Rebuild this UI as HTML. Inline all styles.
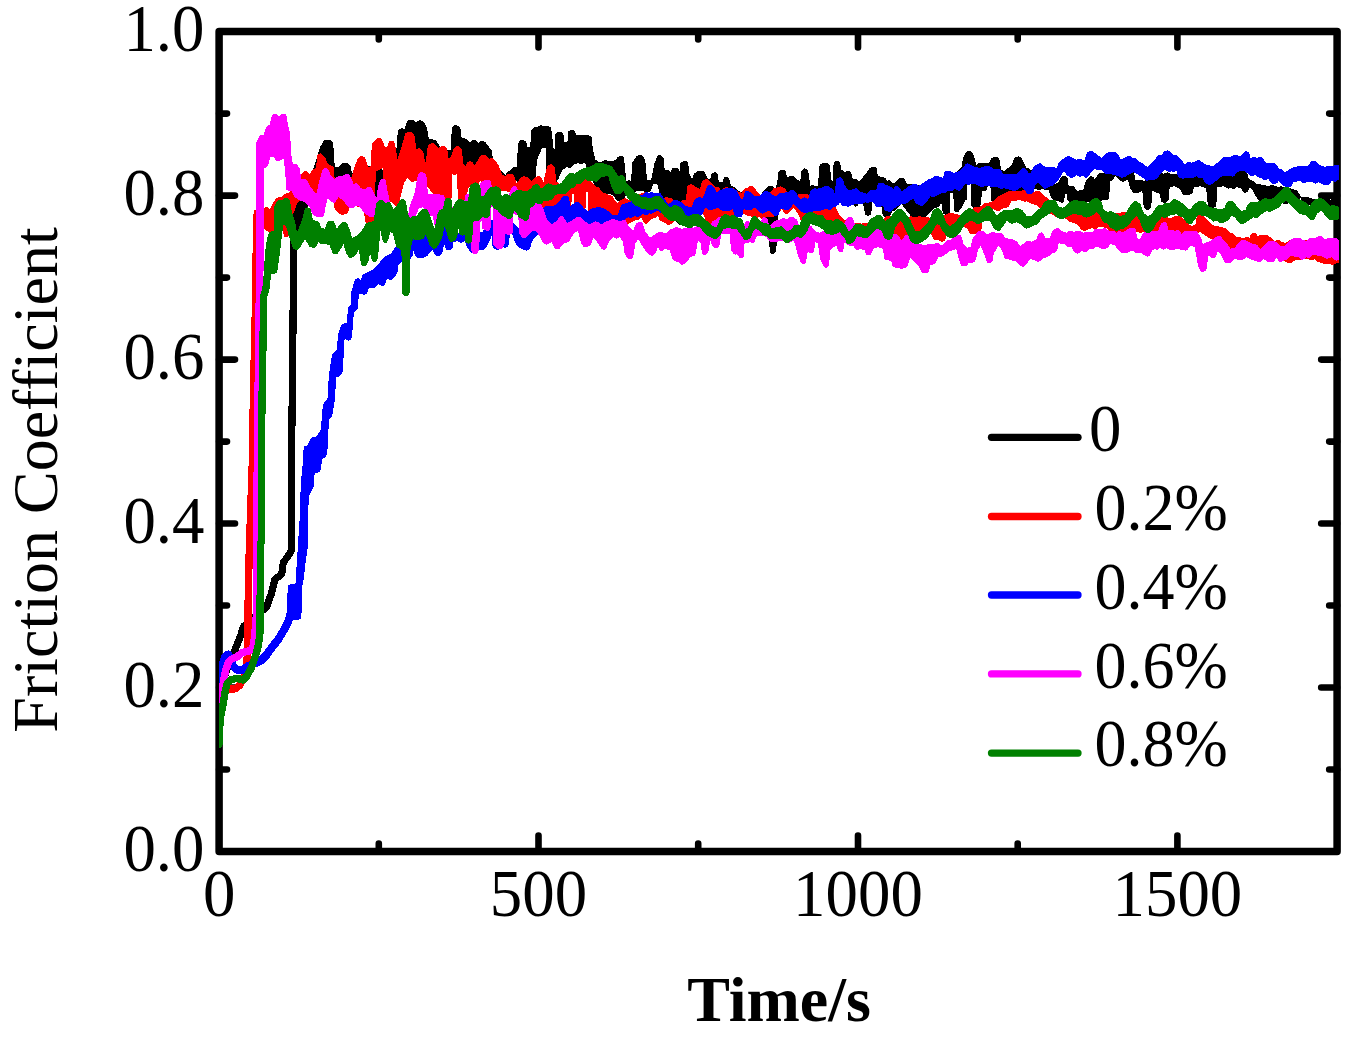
<!DOCTYPE html>
<html lang="en"><head><meta charset="utf-8"><title>Friction Coefficient vs Time</title>
<style>html,body{margin:0;padding:0;background:#fff}body{width:1352px;height:1038px;overflow:hidden}svg{display:block}text{font-family:"Liberation Serif",serif;fill:#000}</style></head><body>
<svg width="1352" height="1038" viewBox="0 0 1352 1038">
<rect width="1352" height="1038" fill="#fff"/>
<g stroke="#000" stroke-width="7.5" fill="none" stroke-linecap="round">
<rect x="219.1" y="31.6" width="1118.0" height="819.9" stroke-linejoin="round"/>
</g><g stroke="#000" stroke-width="6.6" fill="none" stroke-linecap="round">
<path d="M219.1 769.5h7.9M1337.1 769.5h-7.9"/>
<path d="M219.1 687.5h15.9M1337.1 687.5h-15.9"/>
<path d="M219.1 605.5h7.9M1337.1 605.5h-7.9"/>
<path d="M219.1 523.5h15.9M1337.1 523.5h-15.9"/>
<path d="M219.1 441.6h7.9M1337.1 441.6h-7.9"/>
<path d="M219.1 359.6h15.9M1337.1 359.6h-15.9"/>
<path d="M219.1 277.6h7.9M1337.1 277.6h-7.9"/>
<path d="M219.1 195.6h15.9M1337.1 195.6h-15.9"/>
<path d="M219.1 113.6h7.9M1337.1 113.6h-7.9"/>
<path d="M378.8 851.5v-7.9M378.8 31.6v7.9"/>
<path d="M538.5 851.5v-15.9M538.5 31.6v15.9"/>
<path d="M698.2 851.5v-7.9M698.2 31.6v7.9"/>
<path d="M858.0 851.5v-15.9M858.0 31.6v15.9"/>
<path d="M1017.7 851.5v-7.9M1017.7 31.6v7.9"/>
<path d="M1177.4 851.5v-15.9M1177.4 31.6v15.9"/>
</g>
<path d="M394.7 165.9 395.3 166.9 397.4 168.9 398.4 169.4 399.6 169.5 403.7 168.8 406.6 167.2 408.7 167.5 411.8 166.9 413.4 168.2 414.5 168.7 415.8 168.6 417.3 168.2 420.0 168.8 421.0 168.4 422.8 167.4 425.2 167.1 427.3 168.7 429.4 169.5 430.7 169.4 431.8 168.8 432.9 167.8 434.4 192.3 434.8 193.5 435.7 194.3 437.0 195.1 438.3 195.5 439.7 195.1 441.9 193.8 444.6 192.5 445.4 192.0 448.3 188.7 451.0 184.0 451.4 182.9 452.1 172.5 453.8 173.3 455.0 173.6 456.2 173.3 457.9 172.5 458.5 181.3 458.9 182.6 459.9 183.5 461.8 183.7 463.9 184.5 465.3 184.6 467.3 184.2 470.2 183.0 472.8 183.0 476.0 183.9 477.7 183.6 478.6 182.7 479.0 181.5 479.3 178.8 484.6 178.8 485.2 182.4 485.6 183.5 486.5 184.3 488.8 185.1 490.0 184.8 491.7 183.9 492.7 184.5 494.4 184.7 495.8 183.9 497.2 182.5 499.1 182.9 500.5 182.9 505.0 181.2 506.7 179.6 507.3 178.4 507.1 176.9 508.5 177.3 513.1 175.6 516.3 180.9 517.2 181.8 518.4 182.2 519.6 181.9 520.6 181.1 523.5 177.3 528.1 178.8 530.3 181.0 531.7 181.7 533.2 181.6 534.5 181.0 535.6 180.1 536.0 178.7 536.7 160.9 542.0 148.0 545.8 148.0 546.2 178.5 546.7 180.0 548.0 180.9 553.1 183.0 554.3 183.2 555.5 182.9 556.4 182.0 558.7 178.4 562.1 170.3 566.7 167.2 568.6 167.8 570.0 167.8 571.3 167.1 573.6 164.6 578.3 163.0 580.3 164.0 581.7 164.3 583.0 163.8 584.8 162.5 590.0 176.4 594.9 185.6 599.5 190.2 604.2 193.4 605.6 193.8 609.9 193.8 613.0 195.4 616.7 200.4 617.8 201.2 619.0 201.4 620.3 201.0 623.3 199.0 624.0 198.3 626.9 193.9 627.8 194.3 629.4 194.4 630.7 193.5 632.2 191.7 633.4 192.2 634.8 192.4 636.1 191.8 637.7 190.5 642.3 190.5 645.0 192.7 646.1 193.2 647.2 193.2 648.3 192.6 649.9 191.3 650.7 190.4 653.7 183.8 657.1 183.8 659.4 193.0 659.9 194.0 662.1 196.8 662.9 197.5 665.7 198.9 670.8 200.2 672.8 202.9 673.8 203.7 676.2 203.9 676.2 220.7 676.4 221.8 677.1 222.7 679.6 224.7 681.2 225.4 682.6 225.1 683.6 224.2 684.0 222.9 684.6 204.2 686.4 205.1 689.0 205.5 690.9 204.9 693.0 203.2 695.6 202.9 697.4 203.9 698.5 204.2 699.6 204.0 701.9 202.9 704.5 200.9 707.2 200.4 712.4 200.4 714.2 202.4 715.1 203.0 716.2 203.2 717.2 203.2 718.7 202.6 720.4 201.2 722.4 203.2 723.5 203.8 724.9 204.2 726.5 204.2 730.9 202.8 732.6 203.3 734.6 203.2 736.3 202.4 738.6 202.3 740.1 204.4 741.4 205.3 743.1 205.3 746.2 204.1 747.0 211.2 747.3 212.3 748.5 214.3 749.5 215.3 750.7 215.6 752.0 215.3 753.0 214.4 753.3 213.1 753.7 205.5 756.3 211.3 759.5 216.8 761.6 219.4 762.7 220.3 764.2 220.3 765.6 220.0 767.8 220.4 768.7 241.6 770.1 251.6 770.5 252.7 771.5 253.5 772.7 253.8 774.4 253.5 775.3 252.7 775.8 251.6 777.1 241.9 778.0 204.3 779.2 205.1 781.1 205.6 782.4 205.4 783.7 204.7 785.8 202.8 790.9 202.6 793.7 202.1 796.5 202.8 799.3 201.6 801.2 201.8 802.6 201.6 804.5 200.7 805.5 201.6 806.6 202.2 807.9 202.2 809.0 201.6 810.2 200.5 818.6 201.6 820.5 202.4 821.7 202.5 822.8 202.2 824.6 201.1 826.3 202.1 827.5 202.5 833.3 200.5 835.4 201.5 837.9 201.8 839.4 201.5 841.2 200.5 843.8 201.9 849.0 201.0 851.3 202.1 853.6 205.4 854.5 206.3 855.7 206.6 856.9 206.3 857.9 205.5 858.3 204.3 858.7 200.9 862.9 203.6 865.0 213.4 865.5 214.5 866.4 215.2 867.5 215.5 868.8 215.5 870.1 215.2 871.0 214.3 871.4 213.0 872.1 200.7 874.7 201.8 877.7 204.2 878.6 204.7 881.2 205.4 882.6 214.8 883.2 216.1 884.5 216.9 886.0 216.9 889.2 215.8 890.2 215.2 890.8 214.3 892.0 211.3 894.6 210.6 895.7 210.0 901.6 204.1 906.7 211.0 909.5 213.6 909.7 217.0 910.3 218.4 912.2 219.6 914.0 219.6 915.2 219.1 916.8 217.4 918.8 219.0 920.0 219.6 921.2 219.5 923.0 219.0 924.1 218.3 933.6 208.8 937.8 207.4 939.1 206.3 941.4 203.0 942.7 212.2 943.2 213.4 944.3 214.2 946.2 215.0 947.4 215.2 948.6 214.8 949.4 213.8 949.7 212.6 950.0 193.0 953.3 193.0 953.8 208.8 954.5 210.7 955.4 211.9 956.8 212.4 958.3 212.0 959.3 210.9 959.9 209.7 962.8 206.0 965.4 200.3 965.9 200.2 966.8 199.2 967.2 198.0 967.5 183.8 970.8 183.8 971.1 205.0 971.4 206.1 972.1 207.0 973.1 207.5 976.6 208.4 977.7 208.4 978.8 207.9 979.5 207.0 981.1 204.0 981.3 202.9 981.7 191.3 984.6 191.3 985.8 191.1 986.7 190.3 987.2 189.2 987.9 185.5 990.4 185.5 991.1 199.7 991.5 201.0 992.4 201.9 993.6 202.2 997.1 202.2 998.4 201.8 999.3 200.8 1002.0 195.4 1006.6 193.9 1008.4 194.7 1009.5 194.9 1010.6 194.6 1012.5 193.7 1015.2 193.4 1020.1 193.6 1021.7 193.1 1023.8 191.5 1027.0 191.4 1029.4 190.7 1031.9 190.3 1035.0 188.9 1037.8 190.0 1039.7 190.0 1042.5 188.9 1045.3 190.1 1048.8 190.5 1050.9 197.6 1052.2 199.2 1054.3 200.3 1055.6 200.6 1058.2 200.5 1060.1 202.2 1061.4 202.9 1062.9 202.7 1064.0 201.8 1064.4 200.4 1064.7 193.8 1066.7 193.8 1066.8 198.3 1067.1 199.3 1067.7 200.1 1069.9 202.0 1071.1 202.6 1072.4 202.5 1074.3 201.9 1076.6 200.6 1078.7 202.7 1079.8 203.3 1082.3 203.8 1083.3 203.4 1085.2 202.1 1087.8 201.6 1089.7 202.0 1091.5 201.7 1093.3 200.6 1095.1 202.2 1096.0 202.7 1098.4 202.6 1099.6 202.1 1101.9 200.5 1107.5 200.0 1108.5 199.2 1109.0 197.9 1110.5 180.6 1111.5 180.7 1112.6 180.2 1113.4 179.3 1115.2 175.8 1119.4 180.1 1122.0 181.6 1123.3 181.8 1124.6 181.4 1128.0 179.2 1129.7 187.2 1132.3 191.7 1133.2 192.6 1134.6 193.0 1137.6 193.0 1139.2 192.5 1141.5 190.8 1142.8 193.5 1143.6 206.0 1144.2 207.5 1145.5 209.1 1146.7 210.0 1148.3 210.0 1149.5 209.1 1150.8 207.5 1151.4 206.0 1152.1 190.8 1156.2 192.8 1159.6 193.7 1161.0 200.8 1161.5 201.8 1163.4 203.1 1165.0 203.3 1166.4 202.6 1168.1 200.9 1168.9 199.2 1169.6 187.8 1172.2 186.7 1174.9 186.3 1179.6 188.7 1182.4 193.5 1183.2 194.4 1184.2 194.8 1187.5 195.4 1189.3 195.0 1191.9 193.4 1192.7 192.7 1193.1 191.6 1193.8 187.2 1197.2 187.2 1200.0 186.3 1203.2 186.9 1206.2 188.6 1207.7 204.1 1208.1 205.2 1208.8 206.0 1210.6 207.3 1211.6 207.8 1214.3 207.5 1215.4 207.0 1216.1 206.1 1216.4 205.0 1217.1 187.1 1220.1 186.7 1223.2 186.3 1227.2 188.3 1228.3 188.6 1229.4 188.4 1231.1 187.7 1232.5 188.5 1233.9 188.8 1235.3 188.3 1236.8 187.2 1241.3 188.7 1242.2 191.1 1242.9 192.0 1244.0 192.6 1245.1 192.6 1246.4 192.4 1247.6 191.8 1248.4 190.7 1249.4 187.5 1252.9 190.3 1256.1 196.7 1258.8 200.2 1259.9 201.0 1261.3 201.1 1264.8 200.5 1267.0 202.4 1269.0 203.3 1270.3 203.4 1271.4 202.9 1272.8 201.7 1274.6 203.4 1276.1 204.1 1277.4 204.2 1278.9 203.9 1280.8 203.0 1283.7 203.8 1287.2 203.8 1288.4 203.5 1289.4 202.7 1291.8 199.1 1293.7 200.5 1295.0 201.1 1297.3 201.1 1298.3 200.6 1300.0 199.0 1300.7 198.0 1300.9 196.8 1300.4 195.6 1297.5 191.2 1296.1 190.1 1292.0 188.7 1288.5 188.0 1285.1 187.7 1282.5 186.5 1280.9 186.3 1278.3 186.8 1275.2 186.2 1272.8 185.1 1271.7 184.8 1270.5 185.1 1268.3 186.1 1262.1 184.6 1259.7 184.3 1256.9 184.5 1253.3 181.1 1248.8 178.8 1247.4 173.9 1246.3 172.5 1244.8 171.5 1243.5 171.0 1241.7 170.9 1238.8 171.4 1237.4 171.2 1236.1 171.4 1235.1 172.1 1233.5 174.0 1231.0 172.3 1230.0 172.2 1225.7 172.9 1220.4 171.8 1217.7 173.1 1215.2 173.9 1212.2 173.9 1207.4 175.2 1202.8 173.2 1201.5 173.0 1199.1 173.2 1196.7 173.9 1189.1 173.8 1187.3 171.7 1186.4 171.0 1185.2 170.8 1184.2 170.9 1182.9 171.3 1180.8 172.6 1179.1 172.8 1177.4 173.5 1176.5 174.5 1173.5 174.0 1171.5 174.4 1169.6 173.0 1167.9 172.4 1166.6 172.5 1165.2 173.0 1163.4 174.3 1161.8 172.8 1159.9 171.4 1158.7 170.9 1157.4 171.1 1155.5 171.8 1152.2 172.3 1149.6 173.4 1147.5 173.4 1146.4 174.1 1145.8 175.3 1144.6 181.0 1140.5 179.6 1135.4 179.5 1134.0 172.4 1133.0 170.8 1131.8 169.9 1130.4 169.4 1129.0 169.8 1127.3 170.7 1121.8 171.6 1120.4 170.5 1119.3 170.0 1118.2 170.1 1117.1 170.6 1115.0 172.7 1114.4 172.1 1111.2 171.4 1109.9 171.4 1108.1 172.8 1105.1 172.8 1102.1 173.2 1100.5 173.0 1099.1 173.2 1098.0 174.2 1094.9 179.1 1093.4 177.2 1092.3 176.4 1090.9 176.3 1089.7 176.8 1086.8 179.2 1086.0 180.4 1083.0 190.3 1080.5 190.1 1079.4 190.2 1076.9 191.1 1074.5 186.9 1073.4 185.8 1071.8 185.6 1068.7 186.1 1067.5 178.3 1067.0 177.2 1066.1 176.4 1064.9 176.2 1063.0 176.2 1061.6 176.6 1060.6 177.6 1058.0 182.9 1055.4 183.6 1053.5 182.2 1052.2 181.7 1050.9 182.0 1049.2 182.8 1046.8 181.0 1043.8 179.5 1041.2 176.2 1039.0 174.4 1037.9 173.9 1036.6 174.0 1035.2 174.4 1032.5 171.2 1029.6 168.9 1028.5 168.4 1026.2 167.9 1023.7 162.1 1021.2 157.7 1020.0 156.6 1018.5 156.4 1016.2 156.8 1014.9 157.4 1014.1 158.5 1012.1 164.7 1004.1 171.1 1001.3 169.7 999.3 159.0 998.6 157.7 997.3 157.0 995.3 157.3 994.0 157.1 992.5 157.5 991.4 158.6 988.9 163.5 987.5 162.9 985.6 162.9 983.9 163.5 982.1 162.7 980.3 162.5 978.9 162.9 977.8 163.4 976.1 164.9 974.7 158.4 972.6 152.9 971.7 151.6 970.2 151.2 968.0 151.2 966.6 151.6 965.6 152.6 962.8 158.7 962.0 166.4 956.8 171.8 954.1 175.1 951.4 179.5 948.8 179.3 947.8 179.9 946.0 181.5 944.5 181.0 943.3 180.9 942.2 181.5 940.3 182.9 938.4 183.2 936.9 183.9 934.9 186.0 933.7 185.4 932.3 185.1 930.9 185.7 929.5 186.8 927.9 186.0 926.8 185.6 925.6 185.8 924.1 186.5 922.6 185.3 921.3 184.8 915.9 186.1 912.6 184.1 910.8 183.8 907.0 184.4 905.1 179.5 904.2 178.3 902.7 177.8 900.2 177.8 899.0 178.1 898.2 178.8 894.8 182.8 892.5 182.8 891.1 181.0 890.0 180.2 888.7 180.0 886.9 180.9 885.8 178.7 884.6 177.6 883.8 177.2 877.9 176.2 876.7 168.7 876.1 167.4 875.0 166.6 873.7 166.5 871.6 166.9 869.9 167.9 866.3 173.0 862.1 178.0 859.1 181.0 856.9 179.4 855.9 178.9 854.8 178.9 852.9 179.4 851.5 173.8 850.7 172.5 849.4 171.4 847.9 170.8 846.3 171.1 845.0 171.9 841.3 169.7 840.0 162.8 839.5 161.6 838.4 160.8 837.0 160.7 834.7 161.3 833.9 162.2 833.6 163.3 832.9 180.8 831.3 179.7 829.8 165.6 829.2 164.2 827.8 163.4 826.5 163.1 823.5 163.1 822.5 163.3 820.9 164.0 819.9 164.9 819.4 166.2 817.9 186.2 815.7 186.2 814.1 185.3 812.8 184.9 811.5 185.3 810.4 185.9 808.2 171.0 807.7 169.9 806.0 168.7 804.6 168.4 803.2 169.0 801.4 170.7 801.1 171.7 800.4 180.9 797.0 179.6 794.5 176.5 793.4 175.7 792.0 175.6 789.5 176.1 787.0 177.5 785.9 171.8 785.3 170.6 784.3 169.9 783.1 169.7 780.6 170.1 779.2 170.8 778.5 172.3 777.0 183.2 775.0 191.3 774.1 187.8 773.4 186.6 772.1 185.9 770.4 185.6 769.1 185.6 768.0 186.3 763.1 191.4 759.9 196.0 758.1 194.9 756.4 194.6 754.5 194.9 753.0 194.6 750.0 193.0 748.9 192.7 746.1 193.6 740.4 191.9 737.4 190.3 734.8 187.5 733.4 186.7 731.2 186.2 729.2 178.9 728.3 177.5 726.7 177.0 725.8 177.0 724.2 177.5 723.3 178.9 722.2 182.7 718.8 181.3 717.5 174.4 717.0 173.2 715.9 172.5 714.5 172.3 713.1 172.6 711.7 173.3 711.0 174.8 710.4 179.3 707.1 178.0 705.1 172.6 704.3 171.5 703.1 171.0 700.1 170.5 698.2 170.9 694.5 173.3 693.5 174.8 692.3 178.8 689.6 174.8 688.2 163.5 687.8 162.3 686.8 161.5 685.6 161.2 683.8 161.3 682.2 161.7 680.8 162.5 680.2 164.0 679.6 171.5 678.5 169.3 677.6 168.2 676.2 167.8 674.0 167.8 672.5 168.3 671.5 169.6 670.7 172.3 669.4 170.5 668.4 169.8 667.3 169.5 664.6 169.5 663.9 159.1 663.1 157.4 661.6 155.9 660.6 155.2 659.4 155.1 658.3 155.5 656.8 157.1 654.5 163.4 651.3 179.5 647.1 179.5 645.5 163.4 644.1 157.6 643.5 156.5 642.5 155.8 641.0 155.2 639.0 155.2 637.1 155.9 635.9 157.0 632.4 162.6 632.0 163.9 631.2 180.9 629.7 180.4 627.8 180.4 626.3 181.0 624.0 158.5 623.6 157.3 622.7 156.5 621.4 156.2 619.6 156.2 618.3 156.6 617.3 157.6 616.3 159.6 611.5 161.2 608.7 161.6 606.8 160.4 605.4 160.0 604.0 160.4 602.1 161.6 599.3 162.0 595.4 159.7 593.0 149.9 591.6 137.7 591.1 136.5 590.1 135.7 588.0 135.4 585.7 134.7 584.3 134.7 581.6 135.3 578.8 135.3 576.2 134.6 574.6 131.4 573.8 130.5 572.7 130.0 571.4 130.1 569.6 130.7 568.3 131.6 567.8 133.1 567.5 141.3 564.6 142.6 563.9 135.7 563.2 134.1 561.3 132.3 560.0 131.6 558.5 131.7 556.9 132.4 555.8 133.3 555.3 134.7 554.9 149.1 553.0 148.0 552.2 133.5 550.9 128.1 550.0 126.7 548.4 126.1 543.5 126.2 542.3 125.4 541.2 125.0 540.0 125.2 539.0 125.9 537.6 127.4 534.9 127.2 534.0 127.6 532.2 129.0 531.4 129.9 531.1 131.0 530.3 146.3 527.1 147.6 526.5 142.8 526.0 141.6 524.9 140.7 523.1 140.1 521.6 139.9 520.3 140.6 518.6 142.4 517.8 144.1 517.0 167.5 515.2 166.7 514.0 166.9 513.1 167.6 511.3 169.6 508.2 171.5 506.7 172.8 506.0 173.8 506.0 175.3 502.3 171.4 501.4 170.7 498.7 169.6 496.1 163.8 495.1 162.6 493.0 161.4 492.2 152.2 491.8 150.9 488.6 146.3 485.1 142.0 483.5 141.0 481.2 140.9 478.3 142.7 475.6 140.5 474.2 140.0 472.7 140.3 470.0 141.9 466.4 139.0 461.3 137.1 460.6 129.2 460.3 128.2 459.6 127.4 457.4 125.6 456.4 125.1 455.3 125.1 454.2 125.6 452.2 127.4 451.9 128.4 451.2 138.4 450.8 149.5 444.9 150.0 442.0 149.5 436.0 140.7 435.1 139.8 428.8 138.7 427.2 128.6 424.8 123.5 424.1 122.7 421.6 120.7 420.6 120.2 419.4 120.2 418.4 120.7 415.9 122.7 413.6 120.4 412.6 119.8 411.4 119.7 408.7 120.1 407.4 120.8 406.7 122.0 404.7 129.3 403.0 128.5 401.7 128.3 400.4 128.7 398.8 129.9 398.1 130.7 397.8 131.8 395.3 163.2 394.9 163.6 394.5 164.7ZM1300.5 199.3 1301.0 200.7 1302.2 201.5 1304.1 202.2 1305.8 204.4 1306.7 205.2 1307.8 205.5 1310.0 204.7 1312.5 205.5 1317.6 206.6 1319.5 208.0 1321.4 208.4 1322.7 208.3 1323.9 207.7 1325.9 206.1 1328.1 207.0 1330.7 207.5 1338.1 206.6 1338.7 206.1 1338.7 199.4 1338.2 199.0 1335.0 197.6 1333.5 197.5 1332.2 198.2 1330.6 199.9 1328.8 199.1 1327.0 199.0 1325.1 199.5 1322.6 199.3 1319.5 199.7 1317.3 198.9 1316.2 198.7 1313.4 199.0 1307.1 196.8 1303.2 196.5 1301.8 196.8 1300.8 197.9ZM297.2 240.3 297.9 235.9 300.5 226.8 303.8 216.8 310.4 200.3 316.0 196.1 318.8 193.6 321.6 190.5 324.3 186.5 326.9 183.8 329.6 183.5 331.3 182.6 334.2 179.1 335.6 180.2 337.1 180.9 338.7 180.5 340.1 179.6 342.4 179.6 343.6 179.4 345.9 178.2 349.2 178.4 350.4 178.3 350.9 178.0 354.0 181.6 356.9 184.1 359.2 187.8 360.0 188.7 361.0 189.1 362.7 189.3 365.3 191.4 367.8 196.5 369.1 197.8 371.1 198.7 373.6 200.2 377.3 201.2 380.0 203.2 382.2 203.8 383.4 203.5 384.4 202.6 384.9 201.4 387.2 178.5 389.5 174.8 390.0 173.5 389.7 172.2 388.7 171.2 387.4 170.8 386.1 171.2 383.6 172.6 381.3 166.9 380.4 165.8 379.1 165.3 377.7 165.6 376.6 166.1 374.7 165.7 373.0 165.9 371.1 166.9 368.6 166.2 366.6 163.1 365.6 162.3 364.2 162.0 362.4 162.8 361.7 163.6 359.3 167.3 356.6 169.0 354.3 170.8 352.0 173.8 350.6 166.6 350.3 165.7 349.6 164.9 346.9 163.1 345.9 162.7 344.8 162.8 342.2 163.5 340.9 164.4 338.2 167.7 334.7 166.3 333.8 150.1 332.5 142.1 331.9 140.8 330.8 140.0 329.4 139.9 328.3 140.1 326.5 139.8 325.0 140.0 323.8 141.0 319.7 147.8 317.9 154.9 309.5 179.8 306.1 185.3 302.9 193.0 299.7 195.5 296.6 197.0 293.5 199.3 292.6 200.3 290.2 206.1 290.0 207.1 289.9 273.0 288.1 446.0 288.1 549.0 285.0 554.0 280.4 560.6 279.7 562.2 278.3 572.3 272.8 576.4 271.5 578.4 268.2 591.7 263.6 604.9 241.0 623.9 239.8 625.7 237.9 632.7 233.6 643.6 224.2 666.2 219.1 681.4 219.1 711.9 220.2 710.6 222.6 705.6 226.0 683.5 230.9 668.9 240.3 646.3 244.7 635.1 246.5 628.8 269.0 609.7 270.1 608.2 275.1 593.9 278.2 581.4 283.9 577.2 284.8 576.1 285.3 574.8 286.7 564.1 290.9 558.1 294.8 551.9 295.3 550.0 295.3 446.0 297.2 270.9Z" fill="#000000" fill-rule="evenodd" shape-rendering="crispEdges"/>
<path d="M252.5 272.9 249.6 399.9 249.2 445.9 245.3 559.9 244.5 599.9 243.9 648.7 243.3 661.0 242.7 666.9 240.3 676.3 237.1 682.7 233.8 685.2 227.5 685.2 225.3 686.0 220.3 689.8 219.1 691.5 219.1 710.9 220.1 710.1 222.6 706.0 225.7 694.9 228.7 692.6 235.0 692.6 237.2 691.8 242.2 688.0 243.3 686.8 247.4 678.5 249.9 668.5 250.7 661.7 251.3 648.9 251.9 600.1 252.7 560.1 256.6 446.1 257.0 400.1 259.9 272.4 260.5 270.9 260.7 230.2 263.3 228.9 268.1 231.3 270.4 232.9 271.6 233.3 273.0 233.1 275.1 232.2 277.6 231.8 279.2 230.8 281.5 227.8 283.9 235.7 284.7 236.9 286.0 237.5 287.4 237.4 288.5 236.5 289.0 235.2 290.5 215.3 292.8 214.2 294.1 212.7 297.1 203.6 300.1 200.6 305.5 202.4 306.7 202.5 307.8 202.1 310.0 200.6 312.1 201.7 313.3 202.0 315.0 202.0 316.3 201.7 321.2 199.3 324.1 197.5 326.7 197.2 329.9 197.5 332.9 198.7 334.4 207.8 335.0 209.1 338.1 212.5 340.3 214.4 341.7 215.1 343.1 214.9 344.7 214.1 346.0 214.0 347.5 213.3 348.3 211.9 349.6 205.3 353.2 203.2 355.2 205.7 356.7 206.6 358.6 206.9 360.7 208.3 362.0 208.7 363.7 208.8 365.2 221.3 365.7 222.6 366.8 223.4 368.2 224.0 370.1 224.0 371.7 223.3 372.7 222.7 373.3 221.6 374.7 216.4 375.8 170.6 377.1 170.8 378.9 170.3 382.9 167.6 384.4 198.0 384.8 199.3 385.7 200.2 387.0 200.5 389.0 200.5 393.0 203.7 394.7 205.5 395.8 205.8 397.0 205.5 397.9 204.7 398.9 203.0 403.8 183.5 407.6 177.5 410.4 180.9 411.7 181.7 413.2 181.7 419.3 179.7 420.6 181.0 421.6 181.6 422.8 181.8 424.8 180.7 427.5 186.7 432.9 193.6 434.2 197.4 434.8 198.5 435.9 199.1 438.0 199.7 441.0 200.2 442.4 200.0 445.1 198.8 448.0 199.0 449.4 199.3 450.6 198.9 451.5 198.0 451.9 196.7 452.2 174.2 453.3 174.8 454.6 175.2 455.9 174.8 457.0 174.2 457.8 198.0 458.1 199.2 459.1 200.2 460.4 200.5 463.3 200.5 464.5 200.2 465.4 199.5 465.9 198.5 468.7 187.1 471.7 186.5 475.2 187.2 476.5 187.2 477.7 186.9 478.6 186.1 479.1 184.9 479.6 180.8 480.8 181.5 482.1 181.8 483.4 181.5 484.6 180.8 485.2 188.0 485.6 189.2 486.6 190.1 487.9 190.4 491.5 190.5 494.6 192.2 497.4 192.8 500.4 191.3 503.1 190.9 505.9 191.3 507.9 191.8 509.7 191.6 511.5 190.6 513.5 193.0 514.7 193.8 516.7 194.5 518.6 195.6 520.5 195.8 522.1 195.5 527.2 198.7 529.1 200.9 530.0 201.7 532.6 201.8 534.3 203.3 535.4 203.8 536.5 203.9 538.0 203.6 540.4 205.0 545.7 209.3 548.1 212.3 549.4 213.2 553.7 214.3 555.1 214.2 557.0 213.5 560.1 211.1 563.1 210.8 568.0 208.9 570.1 207.7 571.0 206.8 571.4 205.6 571.8 193.8 573.7 193.8 574.1 207.7 574.5 209.0 575.6 210.0 577.1 210.2 578.0 210.0 580.1 211.7 581.6 212.2 583.1 211.8 584.3 211.0 585.2 210.1 585.5 208.9 585.8 192.2 587.8 192.2 588.1 211.6 588.4 212.8 589.2 213.7 591.0 214.2 593.0 216.9 594.5 217.8 596.5 217.9 597.6 217.3 599.1 215.8 604.2 218.4 606.8 220.0 609.0 221.0 610.0 221.1 612.9 220.1 615.5 220.0 621.4 221.4 623.7 223.9 625.0 224.7 626.5 224.6 628.4 223.8 635.1 220.5 637.8 220.0 639.1 219.5 641.5 217.5 643.4 222.2 644.1 223.3 645.2 223.8 646.5 223.8 647.6 223.1 650.3 220.4 653.0 218.4 654.9 218.2 656.4 217.5 658.1 215.9 659.3 219.3 659.8 220.2 660.6 220.8 664.8 222.9 667.3 224.6 668.8 225.0 670.2 224.6 672.4 223.1 673.1 222.5 676.7 217.5 679.2 220.7 681.4 224.2 682.4 225.2 684.3 225.4 685.3 225.2 686.2 224.5 688.2 222.1 690.0 221.7 691.5 220.5 693.6 217.2 696.8 217.4 697.7 216.9 700.2 214.8 703.0 213.9 706.8 223.0 707.7 224.1 709.3 225.2 710.5 225.7 711.9 225.5 713.8 224.6 715.6 224.1 716.8 223.4 717.5 222.2 718.7 217.1 721.4 216.3 724.2 216.3 726.6 217.6 728.0 218.0 730.2 217.8 736.6 216.2 740.2 214.5 743.3 213.9 746.6 215.3 753.1 217.1 754.3 218.0 755.5 218.5 756.7 218.4 757.7 217.7 758.9 216.5 760.8 218.3 762.3 219.0 764.5 219.0 765.5 218.4 767.4 216.7 771.9 217.3 773.0 217.2 774.0 216.6 776.1 214.5 778.5 213.4 779.5 212.5 781.7 209.2 784.7 213.2 785.9 214.1 787.5 214.1 788.8 213.2 793.3 207.5 797.9 213.6 801.6 222.1 802.4 223.2 803.5 223.7 804.8 223.6 805.9 222.8 810.1 217.3 812.5 218.6 814.1 220.5 815.0 221.2 816.2 221.4 818.2 220.6 820.4 222.8 821.5 223.5 823.7 224.2 828.9 226.5 829.9 226.7 832.2 226.7 834.3 227.1 835.7 226.9 839.3 225.5 842.8 225.6 845.7 226.8 847.7 226.8 850.2 225.8 851.3 225.0 851.8 223.7 851.6 222.3 849.9 220.7 848.6 220.3 846.3 220.2 843.6 219.5 840.4 216.4 835.6 206.8 833.5 204.8 832.3 204.2 830.9 204.3 829.4 204.9 823.7 203.7 821.2 203.6 818.6 202.9 815.7 202.5 810.4 199.6 808.7 195.2 807.9 194.1 806.7 193.5 804.5 194.0 801.8 194.2 799.9 194.0 798.0 194.5 796.0 196.0 793.5 196.2 787.9 193.0 785.7 189.4 784.8 188.5 782.0 186.8 780.9 186.4 779.7 186.6 776.6 187.8 774.9 187.9 773.8 188.2 772.9 189.0 768.1 195.3 763.3 194.7 760.2 195.3 753.9 187.4 752.3 186.2 751.2 185.8 750.0 186.0 749.0 186.7 747.6 188.2 746.4 188.0 745.0 188.2 743.8 189.2 741.5 192.7 736.9 191.2 734.7 188.9 733.3 188.1 731.8 188.2 730.0 188.9 727.8 187.6 726.7 187.2 724.3 187.8 722.9 188.9 721.0 192.1 720.1 188.9 719.1 187.5 717.6 187.0 715.2 187.0 710.1 181.1 708.1 179.6 706.7 179.1 705.2 179.5 702.9 180.8 701.8 182.3 699.7 189.2 692.3 184.5 690.8 184.1 689.4 184.6 688.0 185.7 687.2 186.5 686.9 187.6 686.2 199.5 684.0 199.8 682.5 200.4 680.1 202.6 678.9 201.0 677.9 200.2 676.6 200.0 674.6 200.9 672.6 199.0 671.5 198.4 667.4 197.3 666.1 197.2 664.9 197.8 662.9 199.6 658.4 199.5 655.2 198.5 652.0 196.3 649.2 193.2 647.7 192.4 645.7 192.1 644.3 192.3 638.8 194.5 637.6 195.4 634.7 199.5 631.7 199.9 628.5 199.5 626.2 198.4 625.0 198.1 623.8 198.4 621.6 199.5 617.5 202.7 614.6 199.7 612.5 196.3 610.9 195.1 608.5 194.5 602.0 192.1 599.2 188.0 597.7 186.9 595.3 186.2 592.0 183.0 589.5 180.0 588.4 179.2 587.0 179.1 581.2 179.9 578.2 181.2 575.5 182.6 573.0 183.1 571.9 182.8 570.3 182.8 569.1 183.7 567.4 186.0 565.1 186.2 562.3 184.6 559.1 183.4 556.3 181.4 554.8 167.5 554.4 166.5 552.4 164.7 550.8 164.2 549.3 164.7 547.8 165.8 546.8 167.3 543.3 182.8 542.3 178.9 541.4 177.5 539.9 176.4 538.3 175.9 536.8 176.4 534.8 177.8 531.7 181.0 528.3 177.6 527.0 176.9 524.3 176.4 523.3 176.4 520.1 178.3 519.3 179.2 516.8 183.8 514.2 176.0 513.4 174.9 512.2 174.3 509.3 173.8 508.3 173.9 507.3 174.3 504.9 176.1 502.1 174.6 498.9 165.9 495.2 160.3 493.7 158.8 492.7 158.2 491.5 158.1 490.3 158.5 489.3 159.3 486.2 155.6 485.1 154.9 483.7 154.8 481.7 155.2 480.7 155.6 479.9 156.4 477.1 161.4 474.2 165.7 472.7 162.6 471.7 161.6 469.6 161.2 468.3 161.6 467.3 162.6 465.7 165.8 463.0 163.1 462.2 150.6 461.6 149.2 459.9 147.0 458.9 146.2 457.7 146.0 456.5 146.3 454.6 147.5 453.5 149.0 451.2 156.4 448.7 158.9 447.3 149.1 446.9 148.2 446.3 147.4 444.7 146.2 443.3 145.7 441.9 146.0 438.4 147.7 434.6 143.9 433.4 143.2 431.9 143.3 429.4 144.1 428.2 144.9 427.7 146.3 426.2 158.3 425.1 163.5 423.9 153.8 423.5 152.6 421.4 149.5 420.5 148.7 419.4 148.3 418.2 148.5 416.3 149.3 414.7 136.5 414.0 135.0 411.3 132.3 410.0 131.6 408.5 131.7 406.6 132.5 405.6 133.2 405.1 134.2 401.2 148.2 397.0 160.7 396.3 149.7 394.3 142.6 393.7 141.5 392.6 140.8 391.3 140.7 390.4 140.9 389.1 141.6 388.4 142.8 387.2 147.6 384.6 146.3 382.0 139.4 381.3 138.2 380.0 137.7 378.6 137.8 376.0 139.1 372.7 142.4 371.9 144.1 370.4 167.5 367.9 166.3 365.7 158.9 364.7 157.5 363.2 156.4 361.7 155.9 360.1 156.4 358.5 157.6 357.7 158.7 354.5 166.6 351.3 177.9 349.0 178.5 346.1 177.1 343.4 177.8 341.2 176.9 339.4 176.8 337.1 177.6 334.6 177.8 333.9 168.2 333.3 166.7 332.0 165.8 330.2 165.4 327.1 163.0 325.6 158.6 322.3 154.3 321.4 153.6 320.2 153.4 318.4 154.0 317.4 154.9 316.9 156.2 316.2 168.0 313.5 169.4 312.7 170.0 309.2 174.2 307.5 172.1 306.4 171.3 305.1 171.2 303.9 171.7 302.6 172.6 301.8 173.6 299.6 178.1 296.2 183.4 292.9 189.7 288.2 192.9 286.3 193.1 284.6 194.0 282.5 196.5 277.3 197.7 275.8 198.7 272.8 203.2 269.9 209.2 268.5 207.8 267.3 207.1 266.0 207.1 264.8 207.8 263.2 209.4 261.4 208.4 260.3 208.1 259.1 208.4 257.1 209.3 254.8 209.8 253.9 210.7 253.6 211.9 253.2 223.3 252.1 270.8ZM891.2 238.8 893.9 242.7 894.9 243.5 896.2 243.7 897.9 243.6 900.6 244.2 902.1 245.3 903.2 245.7 904.3 245.6 906.4 244.2 907.3 242.6 908.7 232.6 910.1 233.7 911.9 234.3 916.4 233.5 918.7 234.3 921.3 234.5 922.6 234.3 924.7 233.2 926.4 233.6 928.3 233.3 929.8 232.4 933.8 239.0 935.0 240.0 936.6 240.2 938.2 239.8 940.3 241.3 941.7 241.8 943.0 241.5 944.1 241.0 945.1 240.1 945.6 238.8 946.3 227.3 948.8 227.8 951.5 228.7 952.6 228.8 955.7 228.4 958.4 227.2 964.9 227.2 967.4 228.5 969.5 232.5 970.5 233.6 971.9 233.9 977.1 233.4 978.5 233.6 979.9 233.3 981.0 232.4 981.4 231.1 982.2 216.9 985.5 213.4 988.6 208.9 991.2 209.1 993.5 209.0 996.4 210.6 997.7 211.0 999.0 211.0 1000.2 210.4 1001.9 208.8 1007.5 207.4 1008.5 206.9 1009.2 206.0 1011.9 200.6 1014.0 201.2 1016.0 201.0 1018.4 199.7 1020.9 200.3 1023.0 201.4 1024.7 201.7 1026.6 201.4 1031.3 203.7 1036.4 205.4 1044.2 213.2 1045.6 213.9 1048.7 214.3 1051.5 213.9 1055.9 216.8 1057.2 217.2 1063.2 217.9 1066.4 218.8 1069.2 221.6 1070.5 222.3 1073.2 222.8 1076.4 223.8 1081.1 229.3 1083.0 230.8 1084.4 231.2 1085.9 230.9 1087.4 229.9 1090.2 228.8 1092.7 228.2 1094.9 229.4 1096.1 229.2 1097.1 228.6 1098.5 227.2 1103.3 227.2 1108.0 228.7 1109.4 231.5 1110.0 232.3 1111.5 233.6 1113.0 234.2 1114.6 233.8 1116.2 232.8 1119.1 231.8 1124.6 232.1 1127.6 231.6 1129.4 232.2 1131.1 232.2 1132.9 231.6 1135.2 232.1 1138.0 232.2 1140.7 233.1 1143.3 232.2 1145.1 233.5 1146.1 233.9 1147.2 233.9 1149.5 233.3 1152.0 232.0 1158.1 231.8 1163.3 230.5 1165.3 231.1 1166.5 231.2 1168.5 230.8 1170.9 231.9 1172.0 233.1 1173.1 233.9 1174.5 233.9 1175.7 233.3 1176.5 232.6 1178.1 233.7 1179.9 234.1 1181.6 233.8 1184.6 235.2 1186.3 235.6 1187.5 235.7 1188.6 235.2 1190.6 233.7 1193.7 233.8 1200.7 232.2 1209.3 238.4 1210.4 238.9 1215.2 239.5 1218.1 238.9 1220.8 243.6 1222.4 244.8 1224.8 245.5 1228.9 248.9 1229.9 249.4 1231.0 249.5 1234.6 248.9 1235.7 248.5 1239.9 245.6 1242.1 247.9 1243.1 248.5 1244.3 248.9 1245.6 249.0 1246.7 248.5 1248.4 247.2 1250.8 248.0 1252.6 250.1 1253.9 250.9 1255.3 250.9 1256.7 250.5 1259.8 250.5 1261.4 251.8 1262.8 252.3 1264.2 252.0 1265.6 251.3 1267.4 251.5 1269.3 251.0 1271.2 249.7 1273.1 250.6 1274.6 250.8 1276.4 250.6 1279.3 257.1 1280.1 258.0 1285.3 262.0 1286.7 262.5 1291.7 262.8 1292.7 262.2 1294.7 260.4 1297.2 260.0 1299.3 260.4 1300.7 260.3 1303.5 259.3 1306.6 258.8 1311.4 260.2 1313.1 259.9 1314.9 259.0 1316.7 261.3 1317.5 262.0 1322.8 263.2 1324.7 264.2 1326.6 264.4 1328.3 263.9 1332.9 264.8 1334.7 264.3 1336.6 263.1 1337.5 263.1 1338.7 262.5 1338.7 245.5 1337.8 244.7 1336.6 244.0 1335.3 244.1 1333.9 244.5 1332.0 244.1 1330.7 244.2 1328.9 244.8 1327.1 242.9 1325.3 242.1 1321.3 242.0 1318.5 242.8 1316.2 240.4 1314.9 239.7 1313.5 239.3 1312.4 239.3 1311.5 239.7 1309.6 241.0 1307.4 239.8 1306.1 239.5 1301.7 239.5 1298.4 238.7 1296.8 238.9 1295.3 239.6 1293.3 241.4 1292.4 240.6 1291.2 240.0 1289.9 240.1 1288.8 240.7 1287.5 242.1 1285.0 242.8 1281.9 241.9 1279.6 240.3 1278.3 239.9 1277.0 240.1 1275.1 241.1 1270.2 237.1 1267.7 235.2 1266.7 234.8 1265.6 234.8 1263.3 235.3 1260.3 235.0 1259.4 235.4 1257.7 236.7 1256.8 234.5 1255.9 233.3 1254.4 232.8 1253.2 232.8 1251.7 233.3 1250.7 234.6 1249.7 237.7 1247.8 237.0 1246.6 236.8 1245.5 237.2 1243.3 238.6 1240.7 237.2 1239.4 236.9 1236.9 237.0 1234.1 234.3 1233.0 233.6 1230.3 232.9 1225.8 228.5 1224.4 227.7 1213.6 225.4 1210.3 223.0 1205.4 218.0 1202.9 214.9 1201.7 214.0 1200.3 213.9 1198.8 214.2 1197.5 215.0 1196.8 216.3 1195.4 224.6 1191.7 226.1 1187.0 223.0 1182.4 217.6 1181.3 216.8 1177.6 215.6 1176.6 215.5 1175.7 215.8 1171.5 217.8 1169.0 218.0 1166.9 216.6 1165.5 216.2 1164.0 216.2 1162.5 216.6 1158.3 219.4 1154.6 223.6 1151.7 226.0 1149.5 224.4 1146.7 223.2 1144.5 220.1 1143.2 219.1 1141.2 218.4 1138.7 216.3 1134.6 212.2 1133.4 211.5 1131.9 211.6 1128.3 212.8 1125.2 212.0 1122.4 212.2 1119.9 212.8 1117.2 212.9 1116.0 213.3 1113.2 214.8 1111.0 214.6 1109.9 214.7 1108.2 216.1 1105.4 215.1 1101.8 214.5 1099.2 213.8 1097.7 212.4 1096.7 211.7 1095.5 211.6 1093.3 212.8 1089.3 210.2 1087.8 209.7 1086.3 210.2 1085.1 211.0 1083.7 209.7 1082.7 209.0 1081.5 208.9 1080.4 209.4 1079.1 210.3 1076.9 209.4 1075.8 209.3 1070.8 209.5 1068.8 208.5 1067.3 208.2 1065.3 208.4 1060.2 207.9 1057.6 205.7 1055.3 202.7 1053.9 201.8 1051.9 201.2 1047.0 197.9 1042.0 193.8 1039.5 191.3 1038.4 190.6 1037.0 190.6 1035.2 191.1 1030.1 194.3 1027.7 191.3 1026.8 190.6 1025.7 190.4 1023.0 190.4 1020.5 190.9 1014.7 190.4 1007.8 191.4 998.4 196.1 993.1 201.2 988.3 202.8 984.9 203.0 984.0 203.6 981.4 206.2 978.3 206.8 976.5 206.5 975.0 206.6 973.8 207.7 967.9 217.1 965.0 220.9 962.1 217.8 959.1 215.0 957.8 214.4 952.4 213.2 949.6 213.0 948.2 213.2 945.7 214.5 944.2 214.5 943.0 214.8 942.1 215.6 940.2 218.4 939.0 218.3 937.6 218.6 936.6 219.6 934.9 222.5 930.0 217.8 928.2 216.8 926.4 216.5 922.0 217.3 920.3 216.4 919.2 216.1 918.0 216.3 916.3 217.0 913.8 217.2 912.4 216.5 911.0 216.2 909.7 216.7 907.9 218.1 906.4 219.5 903.9 220.0 902.3 218.4 900.8 217.7 899.2 218.0 897.7 218.8 895.2 219.4 892.7 217.0 891.8 216.4 886.9 216.3 885.7 216.5 884.7 217.3 884.2 218.5 883.3 223.6 883.7 225.4 887.9 232.5ZM854.8 225.0 854.9 226.2 861.3 242.2 862.2 243.3 863.4 243.8 864.8 243.6 865.9 242.8 866.4 241.5 867.1 233.8 869.8 233.9 871.8 235.3 873.3 235.7 874.8 235.3 876.9 233.8 882.4 230.7 883.5 229.5 884.0 228.2 883.8 226.8 882.8 225.7 877.5 222.7 875.9 222.4 873.1 222.9 870.6 223.7 868.2 223.0 865.3 222.8 861.7 223.7 858.9 222.7 857.1 222.6 856.0 223.0 855.1 223.9Z" fill="#ff0000" fill-rule="evenodd" shape-rendering="crispEdges"/>
<path d="M300.1 619.2 301.0 618.2 301.4 617.0 302.2 586.1 303.8 579.2 305.5 562.7 308.0 545.8 308.0 521.0 308.8 496.1 313.6 486.6 313.9 485.6 314.6 473.1 317.5 472.5 319.1 471.9 320.1 471.1 320.7 469.9 322.1 459.6 325.5 456.9 326.5 455.3 328.0 445.9 328.8 419.9 331.5 417.2 332.3 415.8 334.7 401.3 336.3 376.8 338.1 376.8 339.3 376.5 340.2 375.6 342.6 372.1 343.0 370.8 343.8 349.7 343.8 340.0 345.9 339.2 346.8 340.0 348.0 340.6 349.3 340.5 350.4 339.8 351.2 338.9 351.9 337.3 353.8 313.2 357.4 308.9 358.0 307.3 358.8 293.6 363.9 294.6 365.1 294.7 366.3 294.1 367.0 293.1 368.7 288.5 371.5 288.4 374.4 287.8 375.8 286.9 378.4 283.7 380.7 285.6 381.8 286.2 383.1 286.1 384.1 285.6 384.8 284.5 386.9 278.7 388.6 279.5 390.3 279.8 391.7 279.5 393.0 278.8 395.6 276.2 397.3 272.8 397.6 271.8 398.2 265.3 402.2 261.3 403.8 261.5 405.5 261.1 407.3 260.0 408.2 260.1 409.8 259.9 410.9 258.7 412.7 255.2 413.5 251.3 415.6 256.4 416.7 257.7 418.3 258.0 423.2 257.7 424.3 257.5 426.8 256.3 427.8 255.4 430.4 251.6 432.8 249.8 434.3 253.6 435.1 254.5 436.6 255.9 437.7 256.4 438.9 256.4 440.0 255.9 441.4 254.7 442.3 253.1 443.0 248.8 444.2 244.1 445.2 248.0 446.2 249.5 448.3 250.5 449.6 250.3 451.1 249.6 452.0 248.8 452.5 247.7 453.4 242.4 457.6 240.9 459.8 242.4 461.3 242.9 462.8 242.4 464.6 241.1 466.8 246.3 469.5 251.0 471.1 252.5 472.3 253.0 473.6 252.9 476.1 251.9 479.1 250.0 482.6 250.0 483.8 249.7 484.7 249.0 486.7 246.3 489.0 242.4 490.8 238.1 491.7 234.9 492.3 244.9 492.6 245.9 493.6 248.0 494.3 248.9 495.3 249.4 497.9 249.8 498.9 249.4 502.8 246.8 504.5 247.9 506.1 247.6 507.2 247.1 508.2 246.3 508.6 245.1 510.1 234.0 511.9 233.5 515.0 242.0 517.3 246.0 518.2 246.9 521.8 249.0 525.3 250.4 526.3 250.6 529.0 249.5 529.9 248.8 530.4 247.9 531.8 242.2 534.4 238.1 538.4 234.1 540.8 231.0 542.0 227.5 543.5 228.5 545.0 229.0 546.5 228.5 548.5 226.9 554.3 227.5 555.4 228.3 556.6 228.7 557.8 228.6 558.8 227.9 560.1 226.5 564.2 228.5 565.6 228.8 566.9 228.3 568.3 227.3 570.5 228.4 571.7 228.3 572.6 227.7 574.1 226.4 579.2 226.5 580.5 227.9 581.6 228.6 582.9 228.6 584.1 228.1 585.2 227.2 587.6 227.4 590.0 229.1 592.3 230.0 593.4 230.0 594.4 229.7 596.2 228.6 598.9 228.6 601.5 228.8 603.0 229.9 604.4 230.3 605.9 229.9 610.1 227.2 611.6 227.8 612.8 227.9 614.0 227.5 615.8 226.2 618.0 225.6 619.0 225.1 622.1 222.5 625.3 218.9 628.4 217.2 630.5 217.8 631.7 217.8 632.8 217.3 635.0 215.6 636.5 216.5 637.8 216.9 639.1 216.6 643.3 214.0 644.2 214.7 645.4 215.3 646.7 215.2 647.9 214.5 649.1 213.1 650.7 213.6 652.7 213.4 658.2 210.6 659.8 212.2 662.7 214.3 666.4 215.5 669.2 218.0 670.5 218.6 672.5 218.9 674.2 218.6 676.8 217.2 679.0 217.6 682.3 217.1 688.0 217.2 691.1 216.7 693.3 215.6 694.4 216.5 695.5 217.1 696.7 217.0 697.8 216.4 699.1 215.3 700.1 215.3 701.7 215.0 702.7 213.7 705.2 207.5 707.6 209.2 708.9 209.7 711.2 209.9 712.3 209.8 715.0 208.9 718.2 207.3 720.4 209.7 721.5 210.4 723.1 211.0 724.6 211.0 726.7 210.5 729.2 210.8 730.9 210.4 733.0 209.1 734.2 215.2 735.0 216.6 736.6 217.3 738.5 217.4 740.1 217.3 741.6 216.6 742.5 215.2 743.7 209.0 746.4 209.8 749.1 210.3 751.0 209.9 754.9 207.3 757.4 209.6 759.6 212.5 760.4 213.2 762.5 213.7 764.3 213.3 766.9 211.5 769.8 210.6 772.3 214.3 773.2 215.2 774.5 215.5 776.7 215.5 777.8 215.3 778.7 214.5 779.2 213.5 780.4 208.9 783.2 209.4 785.7 210.2 787.6 210.1 789.7 209.1 790.7 208.2 793.4 204.1 800.9 211.6 802.2 212.3 804.7 212.7 807.1 212.6 808.7 213.3 810.0 213.5 811.3 213.0 813.6 211.3 816.7 210.5 819.4 210.9 820.7 210.7 823.5 209.6 826.6 208.9 828.4 209.8 830.0 210.0 831.4 209.3 833.6 207.1 835.0 207.0 836.4 206.5 837.2 205.3 837.6 205.3 838.7 204.4 840.0 202.6 841.5 204.8 842.8 205.9 844.4 205.9 845.5 205.6 847.0 206.4 848.3 206.8 849.7 206.4 851.3 205.4 854.0 204.4 856.7 203.8 861.4 204.2 863.2 203.7 865.1 202.2 867.1 202.7 868.4 202.7 870.6 202.1 873.1 202.2 875.6 205.9 876.6 206.8 877.9 207.1 879.7 206.9 883.0 205.7 884.2 209.2 884.8 210.2 885.8 210.8 888.6 211.7 890.0 211.8 891.3 211.1 893.7 208.7 898.6 205.5 903.4 203.8 906.1 203.5 907.5 202.9 910.3 200.4 913.2 199.0 915.9 203.1 916.9 204.0 920.2 205.7 921.7 205.9 923.0 205.3 926.7 202.3 930.2 196.4 933.4 197.2 934.4 196.9 941.8 193.0 944.0 193.3 945.1 193.2 946.1 192.7 948.4 190.6 950.3 191.3 951.7 191.4 952.9 190.8 955.1 188.9 958.1 190.5 959.3 190.7 960.5 190.4 961.4 189.6 965.2 184.0 968.3 185.1 971.7 183.8 974.9 184.2 978.1 185.4 980.3 186.8 981.7 187.2 983.0 186.9 985.1 185.6 988.2 185.5 991.0 186.9 992.2 187.1 998.1 187.2 999.8 188.5 1001.1 189.0 1002.5 188.8 1003.9 188.1 1013.8 191.0 1015.0 191.1 1016.2 190.6 1018.6 188.8 1021.6 187.3 1024.6 190.3 1027.1 193.5 1028.3 194.3 1029.7 194.4 1031.4 194.1 1032.6 193.4 1033.3 192.3 1035.4 185.3 1038.3 182.4 1041.3 185.3 1043.3 187.9 1044.4 188.7 1045.7 188.8 1046.9 188.3 1048.6 187.1 1053.0 185.6 1054.0 185.0 1058.4 180.6 1062.1 173.6 1064.1 171.6 1066.5 174.7 1070.0 177.6 1071.1 178.1 1072.3 178.1 1073.3 177.6 1076.7 174.8 1078.1 176.1 1079.6 176.8 1081.2 176.4 1082.5 175.6 1084.5 177.2 1085.8 177.8 1087.3 177.6 1088.3 176.6 1091.2 172.0 1095.1 168.9 1097.5 170.0 1099.1 170.2 1101.5 169.7 1104.2 173.1 1105.6 174.0 1107.5 174.5 1109.3 174.3 1110.0 173.9 1113.4 174.9 1116.5 175.5 1120.6 177.5 1121.6 177.8 1124.9 176.9 1128.6 174.6 1133.3 172.2 1138.1 174.6 1143.0 177.9 1145.2 180.1 1146.7 180.9 1148.3 180.6 1150.1 179.7 1152.7 180.0 1154.0 179.9 1156.2 179.0 1157.5 178.1 1160.4 173.7 1163.6 170.5 1165.9 170.3 1167.6 171.4 1168.6 171.9 1171.3 171.4 1172.5 171.9 1174.0 172.0 1175.3 171.3 1176.4 170.2 1177.6 175.6 1178.2 176.8 1179.3 177.5 1182.6 178.6 1184.1 178.6 1186.7 177.9 1192.9 177.9 1194.0 177.7 1196.6 176.4 1198.2 177.7 1199.6 178.3 1201.1 178.0 1202.3 177.3 1204.4 181.5 1205.0 182.3 1207.0 184.0 1208.2 184.6 1209.6 184.8 1210.6 184.8 1211.6 184.4 1221.9 176.4 1225.0 175.5 1227.4 176.1 1230.5 176.1 1232.7 176.7 1233.8 176.3 1234.7 175.6 1237.0 172.1 1240.1 171.1 1243.2 170.5 1248.0 173.7 1250.2 175.6 1251.7 176.2 1253.3 175.8 1255.0 174.8 1257.6 177.0 1258.8 177.6 1261.5 178.0 1263.6 179.7 1265.0 180.3 1266.5 180.0 1268.2 179.0 1271.5 182.9 1272.4 183.6 1273.5 183.8 1275.4 183.8 1276.7 183.4 1277.7 182.4 1278.5 180.8 1283.2 185.5 1285.6 187.3 1286.6 187.8 1287.7 187.8 1289.9 187.4 1291.0 186.9 1291.7 186.0 1293.7 182.1 1297.1 181.6 1299.9 180.6 1302.2 182.4 1303.3 182.9 1304.5 182.9 1306.7 182.3 1312.6 182.2 1314.1 183.2 1315.6 183.6 1317.0 183.2 1318.4 182.2 1323.6 184.7 1326.9 185.3 1328.4 185.1 1329.5 184.1 1331.9 180.6 1334.0 181.5 1335.4 181.7 1336.7 181.1 1338.7 179.4 1338.7 165.3 1338.3 164.9 1336.4 164.7 1333.0 165.9 1330.7 165.5 1329.3 165.5 1325.0 167.0 1320.3 165.4 1316.6 161.8 1315.3 161.1 1313.3 160.7 1311.7 160.9 1310.5 162.0 1308.8 165.4 1306.2 166.1 1298.0 166.3 1292.2 167.8 1288.7 169.7 1285.0 172.7 1282.5 170.0 1281.1 169.2 1278.7 168.7 1276.7 164.9 1276.0 164.0 1274.9 163.5 1272.1 162.9 1268.4 163.2 1265.3 162.1 1262.8 158.4 1261.7 157.4 1260.2 157.2 1256.7 157.8 1254.5 157.0 1253.3 156.8 1252.2 157.2 1250.4 158.3 1249.8 154.1 1248.8 152.4 1246.8 151.1 1245.7 151.1 1244.6 151.7 1239.9 156.1 1236.0 154.8 1235.0 154.7 1234.0 154.9 1229.9 157.0 1223.2 157.2 1222.3 157.8 1218.0 162.1 1213.2 166.1 1209.9 165.5 1206.8 165.3 1202.0 162.1 1200.3 160.5 1199.3 159.9 1198.2 159.8 1197.1 160.2 1195.6 161.2 1191.7 162.8 1190.0 161.9 1188.3 161.6 1186.9 162.4 1185.0 164.3 1177.6 155.7 1175.9 154.8 1173.5 154.5 1169.3 151.0 1168.4 150.5 1167.4 150.4 1164.9 150.9 1164.0 151.6 1161.4 155.3 1159.5 155.2 1158.2 155.5 1157.3 156.2 1154.6 159.7 1151.2 163.1 1148.2 166.9 1145.3 165.7 1142.2 163.1 1138.6 161.2 1136.0 158.6 1135.1 158.0 1132.4 158.0 1131.1 156.5 1130.1 155.7 1128.8 155.6 1127.6 156.1 1126.4 157.1 1121.0 159.4 1117.5 153.8 1116.0 152.6 1113.0 152.0 1110.2 152.0 1107.1 152.7 1105.9 153.4 1101.6 157.7 1097.0 154.6 1092.9 151.3 1091.7 150.7 1090.3 150.8 1088.2 151.7 1087.3 152.3 1086.7 153.3 1084.6 159.6 1082.4 160.1 1081.2 159.1 1080.1 158.5 1078.8 158.5 1077.7 159.2 1076.6 160.2 1071.5 156.9 1069.3 156.3 1068.3 156.2 1067.3 156.5 1064.6 158.0 1060.2 160.9 1059.3 161.9 1056.4 167.8 1048.8 166.5 1045.1 167.0 1041.4 163.8 1040.0 163.2 1038.5 163.5 1035.4 165.1 1034.2 166.2 1030.5 172.8 1028.6 172.8 1026.2 169.3 1025.0 168.3 1023.4 168.2 1022.1 168.5 1020.9 169.2 1016.5 173.7 1011.1 173.9 1008.0 173.7 1003.6 174.5 1000.9 170.4 999.3 169.3 997.3 168.8 996.0 168.8 993.5 169.4 991.0 166.9 989.1 166.2 984.5 166.3 980.0 167.8 975.2 167.0 968.8 163.8 967.7 163.4 966.5 163.6 965.6 164.3 959.7 171.2 953.4 172.8 950.7 171.4 949.5 171.2 946.6 171.2 945.5 171.4 944.6 172.1 944.1 173.1 943.0 177.7 936.9 175.7 935.5 175.6 934.3 176.3 932.5 178.0 929.4 178.9 918.4 186.0 916.2 184.2 915.0 183.7 913.7 183.8 911.2 184.7 901.8 191.0 898.8 187.1 897.9 186.3 896.7 186.0 895.5 186.4 894.6 187.2 893.3 189.2 890.7 186.7 889.7 186.0 885.3 184.6 883.5 183.0 882.5 182.8 880.0 182.8 878.9 183.1 878.0 183.8 877.5 184.8 876.3 189.5 872.4 189.5 870.8 190.1 866.6 193.6 863.6 192.7 860.3 192.0 858.3 189.3 857.1 188.3 855.5 188.3 851.1 189.7 848.5 190.3 844.6 184.8 842.7 179.0 842.1 178.0 841.0 177.4 839.8 177.3 838.2 177.6 837.1 178.0 836.4 178.8 836.0 179.9 834.8 193.7 834.0 190.7 832.9 189.1 829.1 186.6 827.7 186.2 825.5 186.1 824.3 186.4 821.5 187.9 816.7 188.7 814.9 188.4 813.7 188.5 812.6 189.1 810.8 190.9 810.2 192.0 808.1 199.2 806.3 197.9 805.0 197.4 803.6 197.6 800.2 199.3 795.7 191.9 794.7 190.9 793.1 190.1 791.7 189.9 790.3 190.4 788.1 192.0 783.3 192.8 781.0 192.7 779.9 192.9 779.0 193.5 776.5 196.1 773.6 195.4 769.2 191.8 767.6 191.2 765.2 191.2 764.0 191.4 763.2 192.1 759.8 196.2 756.7 196.0 753.6 195.4 750.1 191.9 748.3 191.2 746.7 191.2 745.6 191.4 744.7 192.2 744.2 193.3 743.0 199.3 740.4 198.0 737.4 191.3 736.2 190.0 732.3 188.1 731.2 187.8 727.1 187.8 726.1 188.0 722.4 189.5 720.4 189.6 718.6 190.5 716.8 192.5 714.0 187.6 713.3 186.8 711.5 185.5 710.0 185.0 708.5 185.4 707.8 185.9 706.8 187.2 703.0 197.8 699.3 197.2 698.3 197.2 697.3 197.6 695.2 199.2 694.3 200.4 691.4 207.7 688.0 206.4 685.2 206.2 680.7 201.7 679.7 201.0 676.1 199.9 675.0 199.7 673.9 200.2 671.3 201.9 668.4 204.3 663.7 198.0 661.0 194.0 660.1 193.1 658.5 192.8 655.1 193.2 652.5 192.3 650.8 192.3 648.9 192.9 646.7 191.9 645.6 192.1 644.6 192.8 643.0 194.6 640.4 195.4 639.2 196.2 636.4 199.6 622.5 204.2 621.5 204.8 620.9 205.8 618.0 214.5 611.9 214.5 608.8 211.5 605.5 209.2 599.4 206.8 598.3 206.6 597.3 206.8 594.8 207.9 592.0 208.6 591.0 209.0 588.3 211.1 583.7 208.0 579.8 202.8 578.9 202.0 577.7 201.7 576.5 202.0 574.9 202.8 570.4 205.8 569.1 198.3 568.6 197.2 567.7 196.4 566.6 196.2 564.4 196.2 563.2 196.4 562.3 197.2 558.0 203.0 554.8 205.4 551.6 206.2 548.9 206.5 547.3 206.0 546.1 206.0 545.0 206.5 541.0 209.2 539.9 210.5 537.7 216.4 533.9 222.6 532.9 221.7 531.8 221.1 530.6 221.1 529.5 221.7 528.1 222.9 521.6 226.1 518.8 228.0 515.8 225.8 513.3 223.3 512.2 222.6 511.0 222.6 508.9 223.3 506.7 225.2 504.4 226.4 501.7 229.2 499.2 224.9 497.8 223.8 494.9 222.8 493.9 220.8 492.9 220.0 491.7 219.7 490.5 219.7 489.0 220.1 485.5 222.4 484.8 223.2 484.4 224.2 483.2 232.3 480.2 232.3 479.4 231.7 478.2 231.1 476.4 230.8 474.5 231.2 472.2 232.8 467.5 232.8 465.5 231.3 464.1 230.8 462.7 231.1 460.7 232.2 457.6 232.8 453.2 232.8 450.6 230.8 447.4 229.3 445.4 227.3 444.2 226.6 442.7 226.6 441.5 227.0 440.4 227.8 437.7 230.9 435.1 232.6 434.2 231.8 433.0 231.4 431.7 231.7 430.8 232.6 428.7 235.9 425.4 234.4 424.1 234.1 422.8 234.7 419.9 236.8 416.6 240.2 412.8 238.4 411.3 238.2 408.7 238.8 406.2 240.4 401.0 244.7 396.4 246.6 395.1 247.6 390.4 254.2 388.2 254.6 387.1 255.1 384.8 256.9 373.4 269.1 363.8 273.9 362.6 275.2 360.6 279.7 358.5 278.3 357.3 278.3 355.2 279.7 354.3 281.0 351.2 292.5 351.2 304.5 348.5 307.1 347.8 308.8 347.0 322.6 342.7 323.9 341.5 324.5 340.8 325.6 337.8 335.7 337.0 349.4 332.6 353.8 331.9 355.3 328.7 376.4 327.8 397.8 323.3 403.9 322.8 405.2 320.8 429.5 316.4 436.7 312.6 437.3 311.5 437.8 310.7 438.7 307.2 445.5 304.9 445.8 304.0 446.7 303.6 448.0 302.8 462.6 301.2 479.4 300.3 496.0 299.5 521.0 295.4 584.5 293.2 583.6 292.1 583.5 291.0 583.8 289.0 585.0 288.1 585.9 287.8 587.1 286.4 615.2 284.7 619.3 279.8 629.1 274.7 637.7 269.4 644.0 263.3 652.5 257.9 657.9 246.1 662.6 241.3 666.1 239.1 666.1 236.6 664.0 234.2 656.8 231.7 652.4 230.2 650.9 228.2 650.4 226.2 651.0 223.0 652.9 221.2 655.2 219.1 662.4 219.1 704.3 220.4 703.1 222.4 699.8 223.0 698.1 224.7 680.5 226.4 665.9 227.5 662.0 229.4 667.6 230.6 669.3 235.0 673.1 237.6 674.1 242.6 674.1 245.0 673.3 249.6 669.8 261.6 665.0 262.9 664.2 269.2 658.0 275.9 648.8 281.4 642.0 286.9 632.8 291.9 622.8 293.2 619.5 298.8 619.5Z" fill="#0000ff" fill-rule="evenodd" shape-rendering="crispEdges"/>
<path d="M255.9 273.0 253.7 446.0 252.5 618.8 250.8 637.1 249.6 645.1 248.4 647.3 245.0 647.8 240.0 649.7 238.9 650.4 235.0 653.6 231.1 655.2 226.7 658.3 225.3 660.1 222.2 668.9 219.1 684.7 219.1 718.9 220.2 717.9 222.2 714.6 222.7 713.1 224.4 698.2 226.8 683.3 229.3 671.1 231.9 663.6 234.9 661.5 238.1 660.4 239.3 659.7 243.2 656.4 247.2 654.9 251.2 654.4 252.8 653.8 253.9 652.5 256.4 648.1 256.9 646.8 258.2 637.8 259.9 619.4 261.1 446.0 263.3 271.6 263.5 270.9 263.5 168.7 265.2 168.2 266.7 167.1 268.6 163.9 270.4 157.2 273.9 157.2 276.0 160.3 276.9 161.1 278.2 161.4 279.5 161.1 283.8 158.4 285.3 173.4 286.1 188.3 286.4 189.5 287.2 190.3 288.3 190.8 291.4 191.3 294.3 196.5 295.1 197.4 299.5 200.3 304.7 202.1 309.6 206.9 312.5 214.3 313.1 215.2 314.1 215.8 318.7 217.2 321.6 217.2 322.7 216.9 323.6 216.1 324.1 215.0 325.5 206.8 327.7 197.8 329.9 200.6 332.0 202.2 333.3 202.8 334.8 202.6 335.8 201.6 338.5 197.4 343.0 200.4 347.6 206.6 348.6 207.3 350.4 208.2 351.7 208.5 353.0 208.1 356.7 205.6 359.7 207.1 364.4 213.3 369.2 216.7 370.6 217.2 373.3 217.2 374.4 216.9 375.3 216.2 375.8 215.1 377.0 209.2 379.1 210.7 381.4 215.3 382.0 216.2 384.8 217.1 387.4 219.3 389.8 223.2 390.8 224.1 395.9 226.7 398.8 227.4 399.9 227.3 402.3 226.7 404.9 227.3 407.5 227.2 409.3 226.3 412.2 222.8 415.5 216.7 418.7 208.7 423.1 207.3 427.3 214.2 428.2 215.2 429.5 215.5 432.9 215.5 434.2 224.6 434.7 225.9 435.9 226.7 437.2 226.8 440.5 226.4 441.9 225.8 444.1 224.1 447.6 229.4 450.7 232.9 451.5 233.6 454.1 233.8 455.3 233.6 456.2 232.8 456.7 231.8 458.7 222.5 460.6 223.6 462.1 224.0 464.3 223.9 466.6 226.3 467.5 227.0 470.2 227.2 470.7 249.4 471.1 250.8 472.9 253.3 474.1 254.2 475.7 254.3 477.6 253.4 478.3 252.2 479.4 247.0 480.0 221.9 481.5 220.9 481.8 227.1 482.2 228.4 483.3 229.3 485.6 230.4 487.8 230.7 489.2 230.4 490.2 229.5 490.6 228.2 491.2 207.2 492.7 207.2 493.2 244.1 493.4 245.1 494.0 246.0 496.5 248.4 497.4 248.9 500.5 248.9 501.8 248.5 502.6 247.5 504.4 244.0 504.7 242.9 505.1 234.0 507.6 234.8 509.1 234.8 511.1 234.2 512.5 233.3 513.0 231.8 513.5 214.0 518.3 215.4 519.1 232.7 519.7 234.2 522.0 237.2 523.2 238.0 524.6 238.1 525.8 237.5 527.9 235.6 531.1 232.1 534.2 230.6 537.1 232.0 543.0 242.9 544.1 243.9 546.5 244.7 547.7 244.4 551.5 242.4 554.1 247.7 554.8 248.6 555.8 249.1 557.0 249.3 558.4 249.3 559.6 248.5 563.6 243.8 567.8 242.4 569.2 241.3 573.7 233.7 578.0 230.8 581.1 243.0 581.6 244.0 583.5 246.5 584.5 247.2 585.6 247.5 586.7 247.2 589.5 245.8 590.8 244.4 593.5 237.6 597.1 242.0 600.9 248.1 602.7 249.4 604.1 249.7 605.4 249.2 606.3 248.1 608.8 241.9 613.4 237.3 615.4 238.4 616.7 238.7 617.9 238.4 619.8 237.3 622.9 241.8 624.4 253.0 624.8 253.9 627.1 258.1 628.3 259.2 629.9 259.4 631.2 259.1 632.5 258.4 633.2 257.0 635.5 243.5 638.3 239.3 642.9 246.9 646.1 251.7 650.1 255.2 651.1 255.7 652.2 255.7 653.3 255.2 654.8 254.1 655.7 253.0 658.2 246.6 658.8 248.9 659.4 250.0 660.4 250.7 661.6 250.9 662.8 250.4 665.1 248.9 669.6 250.4 672.5 259.2 673.2 260.2 674.2 260.8 678.1 262.1 680.1 264.1 681.1 264.8 682.3 264.9 683.4 264.5 686.6 262.3 687.3 261.6 690.3 257.1 694.0 255.9 695.1 255.1 695.7 253.8 697.9 240.7 700.4 242.0 701.9 252.9 702.6 254.2 703.6 255.1 704.9 255.3 706.1 254.8 707.0 253.9 708.6 250.5 710.2 240.3 711.9 244.9 713.8 247.4 715.1 248.3 716.6 248.3 717.9 247.4 719.2 245.8 719.7 244.5 721.3 233.9 723.2 234.4 724.6 234.3 727.0 233.6 729.5 233.8 731.1 249.5 731.5 250.7 733.4 253.5 734.4 254.4 735.7 254.7 737.3 254.1 738.6 256.7 739.5 257.7 740.8 258.1 742.5 257.7 743.5 256.8 743.9 255.5 744.6 242.3 746.4 242.8 747.7 242.8 749.9 242.2 751.1 242.8 752.5 243.0 753.8 242.5 754.6 241.4 757.0 235.5 761.6 235.5 766.3 237.1 768.8 240.8 770.0 241.8 771.4 241.9 773.3 241.6 776.0 242.1 777.4 241.9 780.1 240.9 783.1 240.5 785.4 242.8 786.6 243.5 788.0 243.4 790.5 242.5 793.1 240.7 795.4 245.2 797.8 255.0 800.8 262.5 801.5 263.5 802.7 264.1 804.1 264.1 805.3 263.3 805.9 262.0 807.8 251.2 808.8 252.5 810.0 253.4 812.1 253.3 813.4 252.6 814.0 251.2 815.4 242.4 817.9 243.7 820.3 259.7 820.6 260.6 823.8 266.3 825.0 267.5 827.0 267.5 828.4 266.7 829.0 265.2 830.5 250.2 833.6 247.1 836.4 245.7 838.3 250.8 839.0 251.8 840.1 252.4 841.6 252.4 842.8 251.6 843.3 250.3 844.5 242.6 847.4 244.9 849.1 245.5 853.1 245.5 855.2 248.7 856.1 249.6 857.3 249.9 858.5 249.6 860.0 248.9 864.6 250.4 865.7 253.7 866.7 255.0 868.2 255.5 870.1 255.1 871.0 254.1 873.7 248.7 878.3 247.2 882.9 248.7 884.2 258.2 884.7 259.3 885.7 260.2 886.9 260.4 888.3 260.3 891.3 261.2 892.5 265.5 893.3 266.8 894.6 267.4 901.0 268.7 902.4 268.6 905.8 267.5 906.8 266.8 907.5 265.8 910.2 257.6 917.9 265.3 921.5 272.1 922.4 273.1 923.8 273.5 926.0 273.3 927.6 272.5 928.5 271.8 929.1 270.8 930.4 265.4 934.3 264.1 935.8 262.8 938.7 257.1 941.2 256.8 942.3 256.5 945.4 254.5 948.6 251.8 956.3 249.0 958.7 258.4 960.7 264.6 961.7 265.8 963.2 266.3 965.2 266.3 966.7 265.9 967.7 264.7 968.6 262.3 970.7 262.8 972.6 262.6 974.4 261.7 975.2 261.0 975.7 260.0 978.0 250.2 980.7 246.1 984.5 255.2 986.5 261.2 987.5 262.5 989.0 263.0 989.9 263.0 991.1 262.7 992.0 262.0 992.5 260.9 993.8 253.5 998.4 245.8 1001.2 248.6 1004.1 257.1 1005.0 258.4 1006.4 258.9 1008.2 259.0 1011.1 260.3 1012.1 260.5 1014.8 260.5 1019.4 265.1 1021.8 266.4 1023.3 266.7 1024.8 265.9 1026.9 263.8 1030.2 258.9 1034.8 260.5 1036.9 261.5 1038.3 261.8 1039.7 261.2 1042.7 258.8 1048.1 256.8 1051.9 253.8 1056.0 251.8 1056.9 251.0 1057.3 249.9 1058.7 242.6 1060.6 244.0 1061.6 244.4 1062.8 244.4 1064.8 243.9 1067.3 246.5 1068.2 247.1 1069.3 247.3 1071.4 247.2 1074.1 252.0 1074.8 252.8 1077.1 253.5 1078.4 253.5 1079.5 252.8 1081.7 250.7 1083.4 251.9 1084.4 252.4 1085.6 252.3 1086.6 251.8 1090.2 248.9 1091.9 249.1 1093.8 248.5 1095.7 247.0 1098.2 247.2 1102.2 249.1 1103.3 249.4 1104.5 249.1 1107.9 247.4 1109.1 246.3 1110.3 243.9 1114.7 245.4 1118.2 250.1 1120.7 252.4 1122.5 253.0 1126.2 253.0 1127.3 252.7 1131.7 250.5 1134.2 251.4 1135.7 252.8 1136.7 253.4 1137.8 253.4 1140.0 252.3 1145.9 256.3 1147.4 256.8 1148.9 256.4 1149.9 255.3 1152.1 250.4 1154.5 249.0 1156.6 249.9 1157.8 249.6 1158.7 249.0 1160.0 247.4 1161.8 249.0 1162.8 249.5 1163.9 249.6 1165.0 249.2 1166.7 248.1 1169.4 249.7 1172.6 250.4 1174.2 250.1 1176.7 248.9 1179.9 249.4 1182.9 250.4 1185.5 250.5 1186.8 250.2 1187.7 249.4 1190.2 245.6 1194.6 247.0 1198.0 265.4 1200.2 270.5 1201.2 271.6 1202.6 272.1 1204.0 271.7 1205.2 270.9 1206.1 270.2 1206.5 269.1 1208.7 254.5 1210.6 257.0 1211.5 257.7 1213.5 258.0 1215.0 257.5 1216.0 256.2 1217.7 251.0 1221.2 255.3 1224.0 261.5 1224.9 262.6 1226.4 263.0 1229.2 263.0 1230.9 262.4 1235.1 258.9 1239.3 260.3 1240.7 260.3 1244.0 259.3 1246.7 257.3 1251.7 259.7 1258.5 262.0 1260.0 262.1 1261.3 261.3 1263.4 259.0 1267.5 261.7 1269.0 262.2 1272.2 262.2 1273.4 261.9 1274.4 261.0 1276.6 257.6 1278.4 260.7 1279.4 261.7 1280.8 262.0 1282.2 261.5 1283.5 260.5 1285.7 260.4 1286.8 260.0 1287.7 259.3 1290.3 255.5 1292.6 255.5 1294.1 256.8 1295.6 257.4 1297.1 257.1 1298.2 256.5 1300.1 258.8 1301.1 259.6 1302.3 259.8 1303.5 259.3 1306.7 257.3 1308.8 258.1 1310.0 257.8 1310.9 257.0 1312.5 254.8 1314.9 254.7 1318.0 255.7 1321.5 256.3 1325.7 258.4 1326.6 258.7 1327.6 258.5 1331.5 257.2 1334.5 259.9 1336.3 260.6 1337.1 260.5 1338.4 260.2 1338.7 259.9 1338.7 240.6 1336.4 238.4 1334.6 237.8 1329.0 237.6 1327.5 238.0 1325.1 239.4 1321.5 236.4 1320.0 235.8 1318.5 236.2 1316.5 237.4 1313.3 237.8 1311.3 237.5 1309.9 237.6 1308.8 238.3 1306.5 241.1 1301.9 239.6 1300.2 238.2 1298.9 237.6 1297.6 237.8 1296.1 238.4 1294.6 238.1 1293.3 238.1 1292.2 238.8 1284.8 246.2 1280.2 246.2 1275.8 241.8 1274.4 241.1 1271.0 240.5 1269.9 240.6 1268.9 241.1 1264.8 244.6 1260.1 249.2 1257.6 245.5 1256.8 244.8 1255.7 244.4 1253.5 244.2 1250.2 242.9 1246.6 240.7 1243.3 239.7 1240.2 241.0 1239.3 241.8 1234.7 247.9 1230.3 248.6 1226.9 243.2 1220.7 236.6 1219.7 236.0 1218.6 235.9 1217.5 236.2 1209.8 241.2 1206.3 242.3 1202.8 244.2 1201.1 237.8 1197.7 232.4 1196.7 231.5 1195.4 231.2 1191.1 231.4 1186.1 230.9 1184.9 231.1 1183.9 231.8 1181.7 234.2 1179.8 231.3 1178.9 230.4 1177.7 230.1 1176.5 230.4 1175.0 231.1 1173.0 229.9 1171.7 229.5 1170.3 229.9 1168.7 230.9 1166.9 223.9 1166.2 222.6 1164.9 222.0 1163.4 222.1 1161.4 223.1 1160.9 224.0 1158.0 231.1 1154.6 230.7 1149.0 231.8 1147.6 231.1 1146.1 230.9 1144.7 231.5 1142.7 233.5 1139.8 239.3 1137.1 238.0 1135.8 230.0 1135.3 228.9 1134.4 228.1 1133.2 227.8 1130.6 227.8 1129.2 228.3 1124.8 231.2 1122.3 232.0 1120.0 230.9 1118.9 231.0 1116.6 232.7 1114.2 231.2 1112.5 230.8 1110.1 231.2 1108.6 230.4 1106.3 228.7 1105.0 228.1 1103.6 228.4 1101.5 229.3 1098.4 229.5 1096.2 228.6 1095.0 228.9 1094.1 229.7 1092.5 231.9 1090.0 232.0 1087.2 231.7 1086.0 231.8 1083.4 232.8 1079.3 230.8 1078.4 230.5 1077.4 230.6 1073.4 232.0 1071.6 230.8 1070.0 230.4 1068.5 231.1 1066.6 232.8 1061.9 231.2 1059.6 228.9 1058.4 228.2 1056.9 228.3 1054.1 229.2 1053.1 229.8 1052.5 230.7 1049.7 237.8 1045.3 237.8 1043.7 233.9 1042.9 233.0 1041.9 232.4 1040.1 232.6 1039.0 233.2 1038.3 234.2 1036.3 239.6 1031.7 241.9 1029.9 240.9 1028.3 240.5 1026.9 241.1 1024.7 242.9 1020.1 246.0 1017.4 241.9 1016.4 241.0 1012.3 238.9 1011.1 238.7 1008.4 238.7 1005.3 237.9 1002.7 234.0 1001.8 233.1 1000.5 232.8 996.7 232.8 992.4 232.1 990.8 232.4 986.8 234.4 984.3 231.9 983.5 231.4 979.4 231.2 978.2 231.4 977.3 232.2 973.2 237.7 972.7 238.6 970.4 247.1 966.8 247.8 963.8 244.7 961.4 236.4 960.7 235.3 959.6 234.6 958.3 234.6 957.1 235.2 956.0 235.0 954.4 235.3 953.3 236.3 951.4 239.5 948.8 239.5 947.8 240.1 943.1 244.5 940.6 245.0 938.9 243.3 937.5 242.6 935.9 242.9 934.4 243.6 931.6 244.5 928.1 244.4 925.0 244.9 921.8 244.5 917.9 243.1 912.0 242.8 908.8 236.5 907.9 235.5 906.6 235.1 905.3 235.4 904.3 236.4 901.7 240.7 898.4 235.6 896.6 234.1 895.6 233.5 894.4 233.5 893.3 234.0 891.6 235.3 889.8 234.8 888.3 234.9 887.1 235.7 885.3 238.0 884.0 229.3 883.6 228.2 882.7 227.4 880.7 226.2 879.6 225.9 876.4 225.7 873.2 226.4 872.4 227.1 868.0 232.9 865.5 233.7 860.3 232.9 857.6 227.5 854.6 223.1 852.9 218.5 852.1 217.4 850.8 216.8 849.5 217.0 848.1 217.6 846.7 218.8 843.1 226.1 841.9 225.9 840.5 226.0 839.4 226.8 837.4 229.1 834.9 231.1 833.6 230.4 832.2 230.1 830.9 230.6 829.2 231.8 826.7 232.8 824.8 231.5 823.3 231.0 821.9 231.5 819.9 232.8 816.9 232.1 813.7 229.7 811.7 226.6 810.6 225.7 809.2 225.5 807.9 226.1 803.4 229.4 798.8 224.7 797.4 220.5 796.3 219.2 793.1 217.0 791.7 216.6 790.2 217.0 786.6 219.4 784.5 218.4 783.3 218.1 782.1 218.5 779.9 219.7 777.6 219.6 776.6 219.7 769.4 225.8 767.5 219.3 766.8 218.2 765.0 217.4 763.3 217.5 762.1 218.6 759.7 222.9 757.3 223.6 756.1 223.1 754.5 223.0 753.1 224.0 751.8 225.7 750.1 222.4 749.3 221.5 748.2 221.0 747.0 221.1 745.1 222.6 744.4 223.8 743.1 229.0 741.8 227.9 740.6 227.2 739.2 227.3 737.7 227.8 735.2 227.8 729.8 223.8 728.9 223.3 726.4 222.7 723.7 221.3 722.1 218.0 721.2 217.0 719.9 216.6 718.6 216.8 717.6 217.7 716.4 219.6 714.0 220.2 712.5 221.4 709.6 226.2 706.5 229.4 703.5 228.3 700.5 226.9 697.4 226.3 695.8 226.5 693.3 227.8 691.1 226.8 690.0 226.5 688.9 226.8 686.5 227.9 681.7 228.7 677.6 227.3 675.7 227.4 673.2 228.6 670.4 229.4 669.3 230.0 666.5 232.8 663.5 232.6 661.2 231.7 660.0 231.5 658.8 231.9 650.1 237.7 645.4 231.4 642.8 223.5 642.1 222.4 640.9 221.8 639.5 221.9 637.4 222.6 636.5 223.1 635.8 224.1 633.2 230.8 628.7 226.4 626.3 221.4 625.5 220.5 624.3 220.0 623.1 220.1 620.0 221.1 615.3 219.6 612.5 219.1 610.7 219.5 608.1 221.2 605.4 221.7 604.3 222.3 601.6 224.4 598.3 222.3 596.2 221.5 595.0 221.4 593.8 221.8 591.4 223.4 588.5 224.4 583.4 219.5 579.8 217.0 578.3 216.6 576.9 217.0 569.8 221.9 566.9 222.7 563.7 217.4 562.8 216.5 561.6 216.2 560.4 216.4 559.4 217.2 556.3 221.3 551.7 224.4 547.1 219.7 543.7 209.6 540.9 204.1 540.1 203.1 539.0 202.7 536.1 202.2 534.9 202.3 533.9 202.9 530.8 206.0 528.7 204.0 527.5 203.4 525.3 202.9 522.3 197.5 521.5 196.6 518.8 194.7 517.4 188.4 516.9 187.3 516.0 186.6 514.0 186.0 512.8 186.3 511.9 187.2 510.3 190.2 507.9 199.5 505.7 199.7 502.6 199.4 500.4 199.7 499.0 198.8 497.7 198.4 496.3 198.7 495.3 199.2 490.8 182.0 490.1 180.8 488.8 180.1 486.0 179.7 484.9 179.7 484.0 180.2 481.1 182.4 480.2 184.0 478.7 193.0 475.8 195.2 473.3 198.2 471.2 199.3 470.5 195.6 469.8 194.4 468.6 193.6 467.2 193.6 466.0 194.4 465.4 195.6 464.5 199.7 462.2 201.4 460.3 201.4 458.9 201.9 456.5 203.6 454.0 206.3 451.8 207.7 445.4 199.8 444.3 196.4 443.3 195.0 441.7 194.6 440.6 194.6 437.3 193.6 431.9 193.7 428.0 194.4 426.4 175.9 426.1 174.9 425.4 174.0 423.4 172.5 422.3 171.9 421.1 172.0 420.0 172.6 418.4 174.2 417.7 175.6 414.5 193.2 409.6 206.3 407.9 216.2 401.9 216.2 398.7 213.7 396.7 212.9 393.7 212.8 389.6 199.9 388.0 193.2 385.7 180.9 385.2 179.8 383.9 178.9 382.5 178.6 381.2 179.1 380.4 180.3 378.0 186.2 376.4 198.3 371.6 188.2 370.9 187.2 369.8 186.7 368.6 186.7 367.5 187.2 364.9 189.4 360.3 187.9 358.3 184.3 357.2 183.3 355.8 183.0 354.5 183.5 353.6 184.2 351.1 177.9 349.0 174.7 348.1 173.9 346.8 173.6 345.5 173.9 343.2 175.4 338.8 176.1 337.6 176.6 334.2 179.3 330.4 174.7 328.6 169.8 327.9 168.8 326.9 168.2 324.5 168.4 323.2 169.1 322.5 170.2 319.5 180.0 316.4 194.0 313.7 191.1 310.4 186.4 307.0 180.2 305.8 179.1 304.3 178.9 301.3 179.4 299.7 168.8 299.2 167.6 297.1 164.9 295.9 164.1 294.4 164.0 292.9 164.4 291.3 154.9 290.1 133.0 288.0 124.9 286.6 115.9 286.1 114.7 285.2 114.0 282.7 113.7 281.6 113.9 280.6 114.7 279.2 116.7 277.9 114.9 276.7 114.1 275.3 113.9 273.7 114.2 272.4 114.9 271.7 116.2 269.6 124.7 266.9 126.7 266.0 128.0 263.8 134.6 261.0 135.1 259.9 135.7 259.1 136.7 257.1 141.4 256.2 142.4 255.7 144.1 255.7 270.9Z" fill="#ff00ff" fill-rule="evenodd" shape-rendering="crispEdges"/>
<path d="M263.8 272.6 262.4 287.3 260.1 295.9 257.6 445.9 257.8 539.7 256.7 546.0 256.4 629.8 255.8 637.0 254.0 647.9 251.0 657.6 248.0 666.1 244.5 673.0 242.0 675.9 238.0 674.7 235.9 674.6 229.1 676.5 227.3 677.7 224.1 681.5 223.3 683.1 221.3 692.1 219.1 705.6 219.1 748.1 220.8 747.8 222.2 746.4 222.7 744.6 223.1 730.5 224.4 717.0 226.8 704.6 228.6 693.4 230.3 685.6 232.2 683.4 236.9 682.1 242.1 683.6 244.2 683.7 246.0 682.5 250.4 677.5 254.7 669.3 258.0 659.9 261.2 649.4 263.2 637.8 263.8 630.0 264.1 546.3 265.2 540.0 265.0 446.0 267.4 296.5 269.7 288.4 271.2 273.5 274.8 273.5 276.0 273.2 277.0 272.4 277.4 271.3 279.7 255.0 282.2 233.4 283.7 224.4 286.2 226.9 289.5 238.4 292.6 247.7 293.9 249.2 295.1 249.8 296.7 250.1 298.1 249.3 300.6 246.7 305.0 239.3 309.1 246.1 309.8 246.9 310.9 247.3 313.5 247.8 315.0 247.5 316.2 246.5 318.5 242.4 320.8 243.7 322.4 244.1 324.9 243.8 329.6 245.4 332.5 252.5 333.2 253.5 335.1 254.3 336.7 254.2 337.9 253.2 341.9 247.2 343.3 243.4 346.1 253.2 348.4 256.9 349.4 257.8 350.7 258.0 352.0 257.6 354.9 255.7 355.7 254.9 358.9 249.7 361.0 264.0 361.5 265.1 362.4 265.9 364.2 266.4 365.5 266.0 366.4 265.0 368.6 260.5 370.1 252.7 371.7 260.1 372.2 261.2 373.1 261.9 374.8 262.2 376.0 261.9 377.0 261.1 377.4 259.9 378.8 250.0 380.3 230.1 382.6 240.8 383.1 241.8 384.2 242.6 385.7 242.9 387.0 242.3 387.8 241.0 390.3 232.4 392.9 233.7 396.0 246.0 397.1 247.5 401.2 250.3 402.5 273.6 402.0 275.1 402.0 293.0 402.8 294.8 404.0 295.8 406.8 296.0 408.3 295.5 409.3 294.2 409.7 292.7 409.7 273.0 410.5 250.1 412.9 239.0 415.0 239.9 417.7 240.4 419.0 240.3 422.7 239.1 423.5 238.6 424.2 237.8 425.8 234.6 429.4 244.7 430.0 245.7 432.4 248.1 433.7 248.8 435.1 248.7 436.3 247.9 438.6 245.0 442.0 238.3 444.4 227.1 446.2 230.5 448.6 239.7 449.7 241.2 450.3 241.6 451.8 242.0 453.3 241.5 455.0 240.2 455.8 239.2 458.0 234.2 458.6 228.3 459.1 232.6 459.5 233.8 460.4 234.6 462.6 235.6 464.7 235.2 465.1 240.8 465.5 242.1 467.4 243.4 468.5 243.6 469.6 243.4 470.6 243.0 471.6 242.1 472.1 240.8 473.6 220.8 476.2 221.3 477.9 221.1 479.9 220.1 481.1 218.9 482.2 216.7 484.4 217.8 486.2 218.0 487.7 217.7 489.0 216.8 489.7 215.4 490.8 205.0 492.4 205.6 492.9 207.0 494.2 208.5 496.7 209.7 498.0 211.0 498.4 211.7 500.5 214.3 501.4 215.0 506.1 217.3 507.7 218.7 508.8 219.3 510.2 219.2 511.4 218.6 512.2 217.5 513.4 213.8 514.2 210.3 515.4 211.3 518.1 216.5 519.2 217.6 521.9 218.9 523.7 220.4 525.2 221.0 526.7 220.7 528.3 219.5 528.7 218.6 529.8 213.5 530.6 207.3 532.2 206.9 533.8 205.8 535.8 202.8 538.9 204.4 540.9 204.5 541.9 203.9 542.5 202.9 543.1 201.4 545.4 200.8 548.3 200.6 550.9 199.9 552.3 199.1 555.3 195.4 558.5 193.9 561.7 193.8 563.9 194.0 565.1 193.9 566.1 193.2 568.7 190.4 571.4 188.2 573.4 187.6 574.7 186.7 576.8 183.9 578.0 184.3 579.5 184.3 580.7 183.5 585.1 179.0 587.3 180.5 589.3 180.9 591.6 180.5 595.3 181.7 596.7 181.8 597.9 181.1 601.9 177.1 605.0 176.5 608.0 175.6 611.1 186.6 614.1 192.6 614.9 193.5 616.0 194.0 618.7 194.5 620.1 194.3 621.2 193.5 623.3 190.9 627.7 198.2 628.4 199.0 631.3 201.1 634.2 204.8 635.6 205.7 638.1 206.3 640.8 208.3 642.4 208.8 644.3 208.7 646.1 209.9 647.2 210.4 648.4 210.3 650.1 209.7 653.8 209.7 656.6 208.9 659.7 210.4 664.4 216.7 669.4 220.2 672.7 221.2 674.0 221.2 676.5 220.6 681.0 225.0 682.0 225.6 686.5 227.1 688.5 228.3 690.0 228.6 691.4 228.0 693.5 226.3 696.6 226.3 699.7 227.1 705.0 233.9 709.6 237.0 713.5 239.0 715.0 239.3 716.4 238.7 720.0 235.7 720.6 234.8 723.7 228.8 729.9 228.0 732.3 229.3 734.3 229.5 736.5 228.9 741.3 235.3 743.7 238.9 745.0 240.0 746.7 240.0 749.2 239.1 750.2 238.5 750.8 237.6 753.7 230.4 756.6 228.9 759.6 231.2 762.5 234.7 763.9 235.7 766.4 236.2 769.2 238.4 770.5 238.9 773.1 239.1 776.7 238.8 781.5 238.8 785.1 242.5 786.1 243.1 787.3 243.2 788.4 242.8 796.8 237.2 800.4 237.8 801.7 237.7 802.8 236.9 807.3 231.5 810.3 224.0 819.8 227.1 823.0 229.8 825.8 233.1 827.2 234.0 830.2 234.6 832.9 234.7 833.9 234.5 839.8 232.3 844.6 238.6 846.8 243.1 847.8 244.2 849.2 244.5 850.6 244.1 853.2 242.4 854.0 241.5 856.9 236.4 861.5 237.2 865.3 238.4 866.7 238.5 867.9 237.8 876.8 228.9 881.3 230.4 884.2 237.6 884.8 238.5 887.5 239.7 889.2 239.7 890.8 239.2 891.8 238.5 892.4 237.4 895.5 226.9 900.1 220.8 902.9 223.6 906.3 232.0 910.9 241.3 912.1 242.4 915.5 244.1 916.7 244.4 917.8 244.1 921.8 242.2 927.3 238.3 932.2 231.8 936.9 224.0 939.6 225.4 942.7 231.6 947.6 236.7 948.6 237.3 950.8 238.1 952.5 238.1 954.7 237.3 955.7 236.7 960.2 232.2 965.4 223.7 968.6 221.9 971.6 220.6 975.9 223.4 977.2 223.9 978.8 224.0 980.3 223.6 985.2 220.5 989.7 220.5 993.2 227.3 996.3 230.3 997.6 231.0 999.0 230.9 1000.2 230.0 1003.7 225.3 1006.8 220.7 1010.5 223.2 1011.6 223.6 1012.8 223.5 1016.6 222.2 1019.7 223.7 1025.2 228.1 1026.7 228.7 1028.2 228.3 1030.2 227.1 1036.3 224.8 1037.4 224.1 1042.0 218.7 1051.6 212.3 1056.7 217.3 1060.5 219.1 1061.7 219.4 1062.8 219.1 1066.8 217.2 1070.2 215.1 1073.5 213.8 1076.0 213.6 1077.6 214.9 1078.9 215.4 1080.2 215.3 1081.5 214.7 1083.6 216.7 1085.1 217.4 1086.6 217.6 1087.9 217.3 1093.3 214.8 1096.6 212.3 1099.6 215.3 1102.5 221.1 1103.1 221.9 1104.0 222.4 1108.0 223.7 1109.3 226.4 1110.2 227.4 1115.3 230.6 1116.7 231.0 1118.0 230.5 1120.2 229.2 1122.9 228.9 1124.0 228.5 1128.3 225.6 1129.0 224.9 1132.1 220.3 1136.6 215.8 1139.6 220.2 1142.7 228.8 1143.4 229.9 1146.5 232.5 1147.7 233.0 1149.0 233.0 1150.0 232.3 1153.4 228.9 1157.1 222.0 1161.8 217.2 1163.7 217.8 1165.2 217.8 1167.7 216.9 1170.2 215.5 1173.2 215.0 1176.6 213.9 1179.1 216.3 1180.7 216.9 1183.0 217.1 1185.9 222.1 1187.2 223.2 1189.1 224.0 1190.2 224.2 1191.3 223.9 1192.2 223.1 1198.5 214.7 1202.1 215.7 1204.9 215.5 1209.7 218.7 1212.0 220.9 1213.3 221.6 1214.8 221.4 1216.6 220.6 1219.0 222.7 1219.9 223.2 1221.0 223.3 1223.9 222.8 1227.9 220.8 1229.1 219.6 1231.1 215.6 1234.7 217.1 1237.7 221.6 1238.5 222.3 1241.1 223.9 1242.5 224.2 1243.9 223.8 1253.4 217.2 1255.2 218.0 1256.7 218.2 1258.0 217.5 1263.6 212.6 1266.7 211.3 1269.3 211.8 1270.7 211.6 1278.1 208.2 1279.0 207.5 1282.0 203.7 1286.6 200.6 1299.3 213.4 1300.2 214.0 1302.9 215.0 1306.4 215.5 1309.2 218.9 1310.6 219.8 1312.7 220.1 1313.8 219.6 1314.5 218.7 1317.1 213.7 1321.6 210.7 1326.2 216.8 1329.0 219.7 1329.9 220.3 1332.9 220.4 1336.1 219.8 1338.0 219.8 1338.7 219.2 1338.7 206.8 1338.4 206.5 1336.3 206.1 1334.4 205.0 1333.1 204.6 1331.7 205.0 1330.1 206.0 1327.0 203.0 1324.2 199.5 1322.6 198.6 1320.4 198.2 1317.1 198.6 1315.9 199.1 1312.7 201.7 1309.9 205.9 1306.6 202.7 1297.0 197.9 1292.1 193.0 1289.4 188.3 1288.4 187.4 1287.1 187.0 1285.2 187.0 1284.0 187.2 1283.2 187.9 1279.6 192.2 1274.7 197.1 1270.0 199.5 1266.1 198.2 1265.0 198.1 1263.9 198.5 1259.8 201.2 1255.0 202.0 1252.5 201.6 1250.7 202.0 1248.6 203.4 1247.6 204.6 1245.5 209.6 1241.8 211.1 1237.0 206.3 1233.9 202.5 1231.6 200.8 1230.0 200.4 1228.5 201.0 1226.7 202.6 1226.0 203.7 1224.6 207.9 1220.0 209.5 1215.4 207.9 1211.8 207.6 1208.6 206.3 1205.8 202.7 1204.6 201.8 1201.1 200.7 1200.0 200.6 1198.9 201.0 1195.0 203.6 1189.9 209.4 1187.0 207.9 1181.8 202.8 1177.3 199.8 1174.6 199.2 1173.3 199.3 1172.2 200.0 1169.8 202.8 1167.7 202.6 1166.6 202.7 1163.9 203.7 1161.6 205.3 1160.2 204.9 1158.7 204.8 1157.5 205.7 1155.6 207.9 1151.3 214.6 1147.6 216.1 1143.8 213.0 1140.7 204.6 1139.7 203.4 1136.8 201.4 1135.7 201.0 1134.4 201.2 1133.4 201.9 1129.7 206.2 1124.7 214.6 1120.1 216.1 1115.4 213.0 1111.9 211.2 1110.7 210.9 1109.5 211.3 1108.2 212.6 1103.8 209.7 1101.5 202.0 1100.8 200.9 1098.2 198.3 1097.2 197.7 1096.1 197.6 1095.0 197.9 1092.4 199.5 1088.2 202.8 1085.8 202.0 1083.8 200.9 1081.8 200.6 1080.0 201.1 1077.4 200.1 1076.0 199.9 1073.6 200.3 1068.4 202.7 1063.2 207.8 1058.7 206.3 1056.0 200.9 1055.1 199.9 1053.7 199.5 1049.5 199.6 1045.6 200.9 1044.2 202.1 1041.3 207.2 1036.2 211.4 1031.5 216.2 1026.9 216.2 1022.5 210.2 1021.2 209.3 1017.6 208.1 1016.6 208.0 1015.7 208.3 1011.5 210.3 1008.4 210.4 1006.1 209.8 1005.0 209.7 1003.9 210.1 999.9 212.8 996.8 215.9 992.7 209.5 989.9 206.7 988.9 206.1 987.7 206.0 986.6 206.4 983.2 208.6 978.3 213.5 971.3 208.6 970.0 208.2 968.7 208.4 965.2 210.2 964.3 210.8 959.6 216.4 954.7 223.0 950.0 226.0 946.3 223.0 943.1 213.6 942.6 212.7 939.6 209.1 938.3 208.3 936.8 208.3 934.2 209.2 933.2 209.8 932.5 210.8 929.6 219.8 924.6 226.3 919.8 231.2 915.3 231.2 910.2 219.5 905.2 212.9 901.6 209.2 900.6 208.6 899.4 208.5 898.3 208.9 895.0 211.1 889.7 218.0 885.1 221.0 882.4 216.8 881.5 216.0 879.6 214.9 878.3 214.6 877.1 214.9 870.2 219.3 869.3 220.3 866.4 226.1 863.5 225.3 860.8 224.0 859.3 223.8 855.8 224.4 854.8 224.7 854.1 225.5 851.3 229.6 848.6 231.0 845.6 225.2 845.0 224.3 840.5 220.6 838.1 219.2 836.7 218.9 835.3 219.5 833.3 221.1 831.0 219.8 830.0 219.5 826.8 220.3 822.7 215.4 821.8 214.7 820.7 214.5 816.8 214.5 812.5 212.4 810.9 212.1 807.2 212.7 805.8 213.5 803.3 216.0 802.7 216.9 799.7 224.5 796.1 224.5 794.9 224.8 794.0 225.7 791.3 229.6 786.8 231.1 782.8 227.1 781.7 226.4 780.5 226.4 776.7 227.0 771.9 228.6 769.3 224.6 768.5 223.9 767.5 223.5 763.5 222.9 758.7 219.6 756.8 216.9 755.7 215.9 754.2 215.7 752.8 216.5 751.7 217.6 751.0 218.6 747.9 227.9 745.3 228.6 742.5 220.0 741.8 219.0 740.8 218.4 736.9 217.1 734.8 215.3 733.3 214.7 731.8 215.0 730.0 216.1 727.2 214.4 725.8 214.0 724.5 214.4 722.0 215.9 720.9 217.1 717.1 226.3 715.0 227.7 705.3 219.6 700.9 215.2 699.2 214.5 696.7 214.4 694.2 213.8 692.4 214.1 688.3 216.1 685.4 214.6 682.5 208.8 681.1 207.6 678.6 206.5 676.4 205.2 675.0 204.9 673.6 205.3 670.1 207.7 665.4 203.0 661.0 197.2 660.1 196.4 659.0 196.2 655.5 196.2 654.3 196.4 651.5 197.8 648.4 197.8 645.2 197.2 641.9 197.0 639.0 194.4 635.3 192.9 630.6 186.6 626.3 183.0 624.4 176.9 623.7 175.8 622.5 175.1 621.1 175.2 618.5 176.1 612.5 167.0 611.1 166.0 602.3 162.7 601.2 162.5 597.2 162.8 595.9 163.2 591.5 166.2 584.6 168.0 578.6 170.7 574.9 173.6 571.1 173.0 569.9 173.1 568.9 173.7 566.4 176.2 561.4 182.9 556.6 184.5 551.8 184.5 549.5 183.5 548.0 183.3 546.6 184.0 543.7 186.8 540.9 188.5 539.7 186.1 538.8 185.1 537.8 184.4 536.5 184.0 535.2 184.2 532.8 185.6 531.8 188.0 527.0 190.8 523.1 191.2 520.6 189.9 518.8 189.7 516.6 190.3 512.3 193.1 511.5 194.1 510.6 196.1 507.4 193.9 506.4 193.5 505.3 193.6 503.0 195.2 502.2 196.4 501.6 198.2 501.4 191.4 500.9 190.1 499.5 187.9 498.1 186.8 496.8 186.4 495.0 186.5 493.0 187.4 491.4 187.2 490.3 187.3 489.2 187.9 488.1 189.1 484.2 195.6 481.1 196.2 480.8 188.7 479.4 184.7 478.2 183.4 476.5 182.5 475.2 182.3 474.0 182.7 471.2 184.6 470.2 185.9 469.6 187.2 468.1 201.3 463.7 200.5 461.6 199.2 460.2 198.7 458.7 199.2 457.0 200.3 456.1 201.3 452.5 208.5 451.6 200.7 451.2 199.5 449.4 198.2 448.0 197.9 446.6 198.4 445.4 199.3 444.4 200.9 442.9 208.9 440.8 209.4 439.8 209.9 439.1 210.8 437.2 214.7 434.8 228.6 433.8 226.5 430.4 216.4 427.8 210.4 427.1 209.5 426.1 209.0 425.0 208.9 422.4 209.4 420.8 210.4 416.5 216.1 414.0 215.6 412.5 215.8 411.3 216.8 410.1 218.9 408.0 213.2 405.7 201.2 405.1 199.9 403.2 199.0 401.7 199.1 400.4 200.1 396.3 206.3 393.5 209.1 391.1 203.8 390.4 202.9 389.4 202.3 388.3 202.3 385.2 202.8 383.4 200.5 382.3 199.7 380.9 199.6 379.7 200.2 377.0 202.4 376.1 204.1 373.7 221.2 367.4 222.6 366.5 223.1 365.8 223.8 361.3 231.4 356.4 236.2 352.0 237.7 350.4 231.3 347.5 224.0 346.9 223.1 344.8 222.0 343.3 221.8 342.0 222.5 339.4 224.9 336.8 228.9 334.4 222.3 333.7 221.3 332.7 220.7 331.5 220.6 329.4 221.0 328.2 221.5 327.4 222.5 324.7 228.6 321.2 227.9 319.2 222.6 318.4 221.5 317.2 221.0 315.6 220.7 312.9 219.6 310.8 209.6 310.1 208.3 308.7 207.6 307.9 207.4 306.6 207.5 305.5 208.1 304.8 209.3 302.9 216.5 299.5 226.5 296.9 231.8 294.7 220.1 292.2 213.2 289.8 200.7 288.8 199.1 287.6 198.2 286.5 197.7 285.2 197.8 284.2 198.4 283.1 199.5 279.6 199.5 278.3 199.9 277.3 200.8 274.5 206.0 274.2 207.2 273.7 230.5 270.4 231.7 269.5 232.3 268.9 233.2 267.0 238.5 265.3 250.0 263.8 270.7 264.1 271.9Z" fill="#008000" fill-rule="evenodd" shape-rendering="crispEdges"/>
<g font-size="68.3" text-anchor="end">
<text transform="translate(204.5 870.9) scale(0.950 1)">0.0</text>
<text transform="translate(204.5 706.9) scale(0.950 1)">0.2</text>
<text transform="translate(204.5 542.9) scale(0.950 1)">0.4</text>
<text transform="translate(204.5 379.0) scale(0.950 1)">0.6</text>
<text transform="translate(204.5 215.0) scale(0.950 1)">0.8</text>
<text transform="translate(204.5 51.0) scale(0.950 1)">1.0</text>
</g><g font-size="68.3" text-anchor="middle">
<text transform="translate(219.1 916) scale(0.950 1)">0</text>
<text transform="translate(538.5 916) scale(0.950 1)">500</text>
<text transform="translate(858.0 916) scale(0.950 1)">1000</text>
<text transform="translate(1177.4 916) scale(0.950 1)">1500</text>
</g>
<text x="779" y="1020.5" font-size="64" font-weight="bold" text-anchor="middle">Time/s</text>
<text transform="translate(56.5 480) rotate(-90)" font-size="64" text-anchor="middle">Friction Coefficient</text>
<path d="M991.5 437.3H1078" stroke="#000000" stroke-width="7.3" stroke-linecap="round"/>
<text transform="translate(1089.0 450.6) scale(0.950 1)" font-size="68.3">0</text>
<path d="M991.5 516.5H1078" stroke="#ff0000" stroke-width="7.3" stroke-linecap="round"/>
<text transform="translate(1094.6 529.8) scale(0.937 1)" font-size="68.3">0.2%</text>
<path d="M991.5 595.0H1078" stroke="#0000ff" stroke-width="7.3" stroke-linecap="round"/>
<text transform="translate(1094.6 608.5) scale(0.937 1)" font-size="68.3">0.4%</text>
<path d="M991.5 673.9H1078" stroke="#ff00ff" stroke-width="7.3" stroke-linecap="round"/>
<text transform="translate(1094.6 687.6) scale(0.937 1)" font-size="68.3">0.6%</text>
<path d="M991.5 753.1H1078" stroke="#008000" stroke-width="7.3" stroke-linecap="round"/>
<text transform="translate(1094.6 766.4) scale(0.937 1)" font-size="68.3">0.8%</text>
</svg></body></html>
